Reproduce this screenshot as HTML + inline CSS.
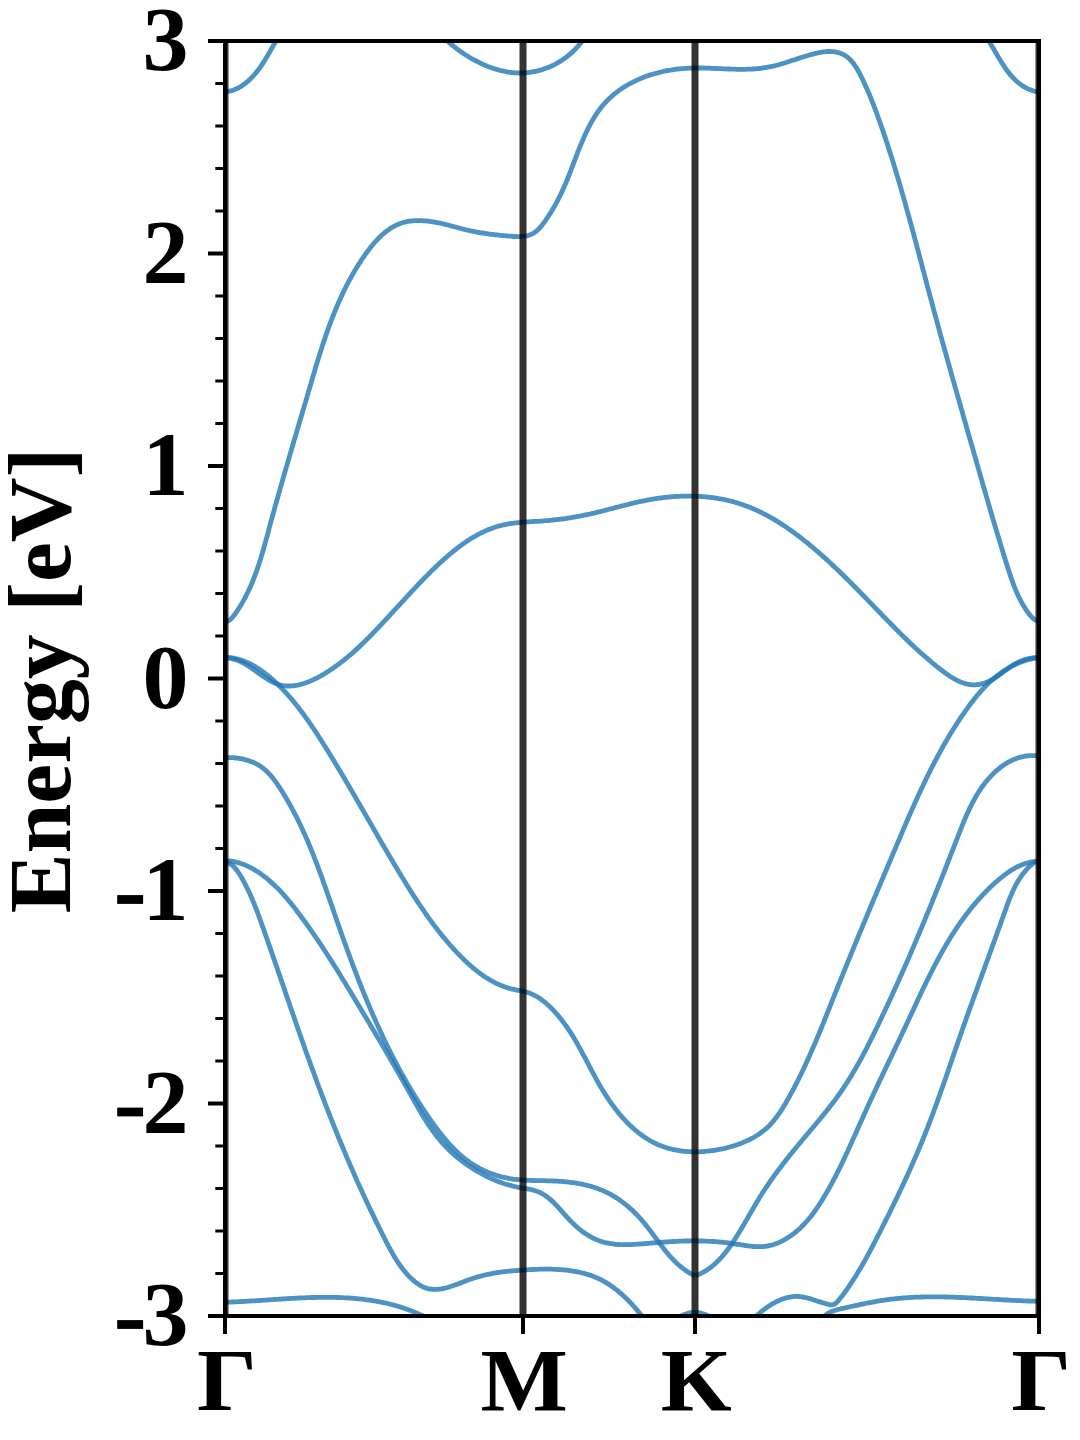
<!DOCTYPE html>
<html><head><meta charset="utf-8"><style>
html,body{margin:0;padding:0;background:#fff;width:1080px;height:1440px;overflow:hidden}
svg{display:block}
</style></head><body>
<svg width="1080" height="1440" viewBox="0 0 1080 1440">
<rect width="1080" height="1440" fill="#fff"/>
<defs><clipPath id="c"><rect x="225" y="41" width="814" height="1275"/></clipPath></defs>
<g clip-path="url(#c)" fill="none" stroke="#1f77b4" stroke-opacity="0.8" stroke-width="4.8" stroke-linecap="butt" stroke-linejoin="round">
<path d="M197.1,75.9 L198.1,77.3 L199.1,78.6 L200.2,79.9 L201.3,81.1 L202.5,82.2 L203.7,83.3 L204.9,84.3 L206.2,85.3 L207.5,86.2 L208.8,87.1 L210.2,87.8 L211.6,88.5 L213.0,89.2 L214.4,89.8 L215.9,90.3 L217.3,90.7 L218.8,91.0 L220.2,91.3 L221.7,91.5 L223.1,91.6 L224.6,91.6 L226.0,91.6 L227.5,91.5 L228.9,91.2 L230.3,90.9 L231.7,90.6 L233.1,90.2 L234.5,89.6 L235.9,89.1 L237.2,88.5 L238.6,87.8 L239.9,87.0 L241.2,86.2 L242.5,85.4 L243.7,84.5 L245.0,83.6 L246.2,82.6 L247.4,81.6 L248.6,80.6 L249.7,79.5 L250.9,78.4 L252.0,77.3 L253.0,76.2 L254.1,75.0 L255.1,73.8 L256.1,72.6 L257.1,71.4 L258.0,70.2 L259.0,69.0 L259.9,67.7 L260.8,66.4 L261.6,65.2 L262.5,63.9 L263.3,62.6 L264.2,61.3 L265.0,60.0 L265.8,58.6 L266.6,57.3 L267.4,56.0 L268.1,54.7 L268.9,53.3 L269.7,52.0 L270.4,50.7 L271.2,49.3 L271.9,48.0 L272.7,46.6 L273.4,45.3 L274.2,44.0 L274.9,42.7 L275.7,41.3 L276.5,40.0 L277.2,38.7 L278.0,37.4 L278.8,36.1 L279.6,34.9 L280.4,33.6 L281.2,32.4 L282.1,31.1"/>
<path d="M440.2,34.1 L441.2,35.1 L442.2,36.1 L443.2,37.1 L444.3,38.2 L445.4,39.2 L446.5,40.2 L447.6,41.2 L448.7,42.1 L449.8,43.1 L451.0,44.1 L452.1,45.1 L453.3,46.0 L454.5,47.0 L455.7,47.9 L456.9,48.8 L458.2,49.8 L459.4,50.7 L460.7,51.6 L461.9,52.4 L463.2,53.3 L464.5,54.2 L465.8,55.0 L467.1,55.8 L468.4,56.7 L469.8,57.5 L471.1,58.3 L472.5,59.0 L473.8,59.8 L475.2,60.5 L476.6,61.2 L478.0,62.0 L479.4,62.6 L480.8,63.3 L482.2,64.0 L483.6,64.6 L485.0,65.2 L486.4,65.8 L487.9,66.4 L489.3,66.9 L490.8,67.5 L492.2,68.0 L493.7,68.5 L495.1,68.9 L496.6,69.4 L498.1,69.8 L499.5,70.2 L501.0,70.6 L502.5,70.9 L504.0,71.2 L505.5,71.5 L506.9,71.8 L508.4,72.1 L509.9,72.3 L511.4,72.5 L512.9,72.6 L514.4,72.8 L515.9,72.9 L517.4,72.9 L518.9,73.0 L520.4,73.0 L521.8,73.0 L523.3,72.9 L524.8,72.9 L526.3,72.7 L527.8,72.6 L529.3,72.4 L530.7,72.2 L532.2,72.0 L533.7,71.7 L535.1,71.5 L536.6,71.1 L538.0,70.8 L539.5,70.4 L540.9,70.0 L542.4,69.6 L543.8,69.1 L545.2,68.6 L546.6,68.1 L548.0,67.5 L549.4,67.0 L550.8,66.3 L552.1,65.7 L553.5,65.1 L554.9,64.4 L556.2,63.7 L557.5,62.9 L558.8,62.2 L560.1,61.4 L561.4,60.6 L562.7,59.7 L563.9,58.8 L565.2,58.0 L566.4,57.0 L567.6,56.1 L568.8,55.1 L570.0,54.1 L571.1,53.1 L572.3,52.1 L573.4,51.0 L574.5,50.0 L575.6,48.8 L576.7,47.7 L577.7,46.6 L578.8,45.4 L579.8,44.2 L580.8,43.0 L581.7,41.7 L582.7,40.5 L583.6,39.2 L584.5,37.9 L585.4,36.6 L586.2,35.2 L587.0,33.8 L587.8,32.5"/>
<path d="M982.0,31.2 L982.9,32.3 L983.7,33.5 L984.6,34.7 L985.4,35.9 L986.3,37.1 L987.1,38.3 L987.9,39.6 L988.7,40.8 L989.5,42.1 L990.3,43.4 L991.1,44.7 L991.9,46.1 L992.7,47.4 L993.5,48.7 L994.3,50.1 L995.1,51.4 L995.8,52.8 L996.6,54.1 L997.4,55.5 L998.2,56.9 L999.0,58.2 L999.8,59.6 L1000.7,60.9 L1001.5,62.3 L1002.3,63.6 L1003.2,64.9 L1004.1,66.2 L1004.9,67.5 L1005.8,68.8 L1006.7,70.1 L1007.7,71.3 L1008.6,72.6 L1009.6,73.8 L1010.5,75.0 L1011.6,76.1 L1012.6,77.3 L1013.6,78.4 L1014.7,79.5 L1015.8,80.5 L1016.9,81.5 L1018.1,82.5 L1019.3,83.5 L1020.5,84.4 L1021.7,85.3 L1023.0,86.1 L1024.3,86.9 L1025.6,87.7 L1026.9,88.4 L1028.3,89.0 L1029.6,89.6 L1031.0,90.1 L1032.4,90.6 L1033.8,91.0 L1035.3,91.3 L1036.7,91.6 L1038.1,91.8 L1039.6,91.9 L1041.0,91.9 L1042.5,91.8 L1043.9,91.7 L1045.4,91.4 L1046.8,91.1 L1048.2,90.7 L1049.7,90.1 L1051.1,89.5 L1052.5,88.7 L1053.9,87.9 L1055.3,86.9 L1056.7,85.8 L1058.0,84.6 L1059.4,83.3"/>
<path d="M207.2,604.3 L207.5,605.4 L208.0,606.6 L208.6,607.9 L209.3,609.3 L210.2,610.6 L211.2,612.0 L212.3,613.4 L213.5,614.7 L214.7,616.0 L216.0,617.2 L217.4,618.3 L218.8,619.3 L220.2,620.1 L221.5,620.8 L222.9,621.3 L224.2,621.6 L225.5,621.7 L226.8,621.5 L227.9,621.1 L229.0,620.5 L230.1,619.7 L231.1,618.8 L232.1,617.7 L233.1,616.6 L234.0,615.4 L234.9,614.2 L235.8,613.0 L236.7,611.7 L237.5,610.4 L238.3,609.2 L239.2,607.9 L240.0,606.6 L240.8,605.3 L241.5,604.0 L242.3,602.7 L243.0,601.4 L243.8,600.1 L244.5,598.8 L245.2,597.5 L245.9,596.2 L246.6,594.8 L247.2,593.5 L247.9,592.1 L248.5,590.8 L249.2,589.4 L249.8,588.1 L250.4,586.7 L251.0,585.3 L251.6,583.9 L252.2,582.6 L252.7,581.2 L253.3,579.8 L253.8,578.4 L254.4,577.0 L254.9,575.6 L255.4,574.2 L256.0,572.8 L256.5,571.4 L257.0,570.0 L257.4,568.5 L257.9,567.1 L258.4,565.7 L258.9,564.3 L259.3,562.8 L259.8,561.4 L260.2,560.0 L260.7,558.5 L261.1,557.1 L261.6,555.6 L262.0,554.2 L262.4,552.8 L262.8,551.3 L263.3,549.9 L263.7,548.4 L264.1,546.9 L264.5,545.5 L264.9,544.0 L265.3,542.6 L265.7,541.1 L266.1,539.7 L266.5,538.2 L266.9,536.8 L267.3,535.3 L267.7,533.8 L268.1,532.4 L268.5,530.9 L268.9,529.5 L269.2,528.0 L269.6,526.5 L270.0,525.1 L270.4,523.6 L270.8,522.2 L271.2,520.7 L271.6,519.3 L272.0,517.8 L272.4,516.4 L272.8,514.9 L273.2,513.5 L273.6,512.0 L274.0,510.6 L274.4,509.1 L274.8,507.6 L275.2,506.2 L275.6,504.7 L276.0,503.3 L276.4,501.8 L276.8,500.4 L277.3,499.0 L277.7,497.5 L278.1,496.1 L278.5,494.6 L278.9,493.2 L279.3,491.7 L279.7,490.3 L280.1,488.8 L280.5,487.4 L280.9,485.9 L281.4,484.5 L281.8,483.0 L282.2,481.6 L282.6,480.2 L283.0,478.7 L283.4,477.3 L283.8,475.8 L284.3,474.4 L284.7,472.9 L285.1,471.5 L285.5,470.1 L285.9,468.6 L286.3,467.2 L286.8,465.7 L287.2,464.3 L287.6,462.9 L288.0,461.4 L288.4,460.0 L288.9,458.5 L289.3,457.1 L289.7,455.7 L290.1,454.2 L290.5,452.8 L291.0,451.3 L291.4,449.9 L291.8,448.5 L292.2,447.0 L292.7,445.6 L293.1,444.2 L293.5,442.7 L293.9,441.3 L294.3,439.8 L294.8,438.4 L295.2,437.0 L295.6,435.5 L296.0,434.1 L296.5,432.6 L296.9,431.2 L297.3,429.8 L297.7,428.3 L298.2,426.9 L298.6,425.5 L299.0,424.0 L299.4,422.6 L299.9,421.1 L300.3,419.7 L300.7,418.3 L301.1,416.8 L301.6,415.4 L302.0,413.9 L302.4,412.5 L302.8,411.1 L303.2,409.6 L303.7,408.2 L304.1,406.7 L304.5,405.3 L304.9,403.9 L305.4,402.4 L305.8,401.0 L306.2,399.5 L306.6,398.1 L307.1,396.7 L307.5,395.2 L307.9,393.8 L308.3,392.3 L308.7,390.9 L309.2,389.5 L309.6,388.0 L310.0,386.6 L310.4,385.1 L310.9,383.7 L311.3,382.3 L311.7,380.8 L312.1,379.4 L312.5,377.9 L313.0,376.5 L313.4,375.0 L313.8,373.6 L314.3,372.2 L314.7,370.7 L315.1,369.3 L315.5,367.8 L316.0,366.4 L316.4,365.0 L316.8,363.5 L317.3,362.1 L317.7,360.6 L318.2,359.2 L318.6,357.8 L319.0,356.3 L319.5,354.9 L319.9,353.5 L320.4,352.0 L320.8,350.6 L321.3,349.2 L321.8,347.7 L322.2,346.3 L322.7,344.9 L323.2,343.5 L323.6,342.0 L324.1,340.6 L324.6,339.2 L325.1,337.8 L325.5,336.3 L326.0,334.9 L326.5,333.5 L327.0,332.1 L327.5,330.7 L328.0,329.3 L328.5,327.9 L329.0,326.4 L329.6,325.0 L330.1,323.6 L330.6,322.2 L331.1,320.8 L331.7,319.4 L332.2,318.0 L332.8,316.6 L333.3,315.2 L333.9,313.8 L334.4,312.5 L335.0,311.1 L335.5,309.7 L336.1,308.3 L336.7,306.9 L337.3,305.5 L337.9,304.2 L338.5,302.8 L339.1,301.4 L339.7,300.0 L340.3,298.7 L340.9,297.3 L341.6,295.9 L342.2,294.6 L342.8,293.2 L343.5,291.9 L344.1,290.5 L344.8,289.2 L345.5,287.8 L346.1,286.5 L346.8,285.2 L347.5,283.8 L348.2,282.5 L348.9,281.2 L349.6,279.8 L350.4,278.5 L351.1,277.2 L351.8,275.9 L352.6,274.5 L353.3,273.2 L354.1,271.9 L354.8,270.6 L355.6,269.3 L356.4,268.0 L357.2,266.7 L358.0,265.4 L358.8,264.2 L359.6,262.9 L360.5,261.6 L361.3,260.3 L362.1,259.0 L363.0,257.8 L363.9,256.5 L364.7,255.3 L365.6,254.0 L366.5,252.8 L367.4,251.5 L368.3,250.3 L369.3,249.1 L370.2,247.8 L371.2,246.6 L372.1,245.5 L373.1,244.3 L374.1,243.1 L375.1,242.0 L376.1,240.9 L377.1,239.8 L378.2,238.7 L379.2,237.6 L380.3,236.6 L381.4,235.5 L382.5,234.5 L383.6,233.6 L384.7,232.6 L385.9,231.7 L387.0,230.8 L388.2,230.0 L389.4,229.1 L390.6,228.3 L391.8,227.6 L393.1,226.9 L394.3,226.2 L395.6,225.5 L396.9,224.9 L398.3,224.3 L399.6,223.8 L401.0,223.3 L402.4,222.8 L403.8,222.4 L405.2,222.0 L406.6,221.7 L408.1,221.4 L409.6,221.2 L411.1,221.0 L412.6,220.9 L414.1,220.7 L415.6,220.7 L417.2,220.6 L418.7,220.6 L420.3,220.6 L421.8,220.7 L423.4,220.8 L425.0,220.9 L426.5,221.0 L428.1,221.2 L429.6,221.4 L431.2,221.6 L432.7,221.8 L434.2,222.0 L435.8,222.3 L437.3,222.6 L438.8,222.9 L440.3,223.2 L441.7,223.5 L443.2,223.9 L444.7,224.2 L446.1,224.6 L447.6,224.9 L449.0,225.3 L450.5,225.7 L451.9,226.1 L453.3,226.5 L454.8,226.8 L456.2,227.2 L457.6,227.6 L459.0,228.0 L460.5,228.4 L461.9,228.8 L463.3,229.1 L464.7,229.5 L466.2,229.8 L467.6,230.2 L469.0,230.5 L470.5,230.9 L471.9,231.2 L473.4,231.5 L474.8,231.7 L476.3,232.0 L477.7,232.3 L479.2,232.5 L480.6,232.8 L482.1,233.0 L483.6,233.2 L485.1,233.5 L486.5,233.7 L488.0,233.9 L489.5,234.1 L491.0,234.3 L492.5,234.4 L494.0,234.6 L495.5,234.8 L497.1,234.9 L498.6,235.1 L500.1,235.3 L501.6,235.4 L503.2,235.6 L504.7,235.7 L506.3,235.8 L507.8,236.0 L509.4,236.1 L510.9,236.2 L512.5,236.4 L514.0,236.5 L515.6,236.5 L517.1,236.6 L518.7,236.6 L520.2,236.5 L521.7,236.4 L523.2,236.3 L524.6,236.1 L526.1,235.9 L527.5,235.6 L528.9,235.2 L530.2,234.7 L531.5,234.2 L532.8,233.5 L534.1,232.8 L535.3,232.0 L536.4,231.1 L537.6,230.1 L538.6,229.1 L539.7,228.0 L540.7,226.8 L541.7,225.6 L542.7,224.3 L543.6,223.1 L544.6,221.8 L545.5,220.5 L546.4,219.2 L547.2,217.9 L548.1,216.7 L548.9,215.4 L549.7,214.1 L550.6,212.8 L551.3,211.5 L552.1,210.3 L552.9,209.0 L553.6,207.7 L554.4,206.4 L555.1,205.1 L555.8,203.9 L556.5,202.6 L557.2,201.3 L557.9,200.0 L558.5,198.7 L559.2,197.4 L559.8,196.1 L560.5,194.8 L561.1,193.5 L561.7,192.2 L562.3,190.9 L562.9,189.6 L563.5,188.2 L564.1,186.9 L564.7,185.6 L565.3,184.2 L565.9,182.9 L566.4,181.5 L567.0,180.2 L567.6,178.8 L568.1,177.4 L568.7,176.0 L569.2,174.6 L569.8,173.2 L570.3,171.8 L570.9,170.4 L571.4,169.0 L571.9,167.6 L572.5,166.2 L573.0,164.7 L573.6,163.3 L574.1,161.9 L574.7,160.4 L575.2,159.0 L575.8,157.5 L576.3,156.1 L576.9,154.6 L577.4,153.2 L578.0,151.7 L578.5,150.3 L579.1,148.8 L579.7,147.4 L580.3,146.0 L580.9,144.5 L581.5,143.1 L582.0,141.7 L582.7,140.2 L583.3,138.8 L583.9,137.4 L584.5,136.0 L585.2,134.6 L585.8,133.2 L586.5,131.8 L587.1,130.4 L587.8,129.0 L588.5,127.7 L589.2,126.3 L589.9,125.0 L590.6,123.6 L591.3,122.3 L592.1,121.0 L592.8,119.7 L593.6,118.4 L594.4,117.1 L595.2,115.8 L596.0,114.6 L596.8,113.3 L597.7,112.1 L598.5,110.9 L599.4,109.7 L600.3,108.5 L601.2,107.3 L602.1,106.2 L603.1,105.1 L604.0,104.0 L605.0,102.9 L606.0,101.8 L607.0,100.7 L608.1,99.7 L609.1,98.7 L610.2,97.7 L611.3,96.7 L612.4,95.7 L613.5,94.8 L614.6,93.8 L615.8,92.9 L616.9,92.0 L618.1,91.1 L619.3,90.3 L620.5,89.4 L621.7,88.6 L622.9,87.8 L624.2,87.0 L625.4,86.2 L626.7,85.5 L628.0,84.7 L629.3,84.0 L630.6,83.3 L631.9,82.6 L633.2,81.9 L634.6,81.3 L635.9,80.6 L637.3,80.0 L638.6,79.4 L640.0,78.8 L641.4,78.2 L642.8,77.6 L644.2,77.1 L645.6,76.6 L647.0,76.1 L648.4,75.6 L649.9,75.1 L651.3,74.6 L652.7,74.2 L654.2,73.8 L655.7,73.3 L657.1,73.0 L658.6,72.6 L660.1,72.2 L661.5,71.9 L663.0,71.5 L664.5,71.2 L666.0,70.9 L667.5,70.6 L669.0,70.3 L670.5,70.1 L672.0,69.8 L673.5,69.6 L675.0,69.4 L676.5,69.2 L678.0,69.0 L679.5,68.9 L681.0,68.7 L682.6,68.6 L684.1,68.5 L685.6,68.3 L687.1,68.3 L688.6,68.2 L690.1,68.1 L691.6,68.1 L693.1,68.0 L694.6,68.0 L696.1,68.0 L697.7,68.0 L699.2,68.0 L700.7,68.0 L702.2,68.0 L703.7,68.0 L705.2,68.1 L706.7,68.1 L708.2,68.2 L709.7,68.2 L711.2,68.3 L712.7,68.3 L714.2,68.4 L715.7,68.5 L717.2,68.5 L718.7,68.6 L720.2,68.7 L721.7,68.7 L723.2,68.8 L724.7,68.9 L726.2,68.9 L727.7,69.0 L729.2,69.0 L730.7,69.1 L732.2,69.1 L733.6,69.2 L735.1,69.2 L736.6,69.3 L738.1,69.3 L739.6,69.3 L741.1,69.3 L742.6,69.3 L744.1,69.3 L745.6,69.3 L747.0,69.2 L748.5,69.2 L750.0,69.1 L751.5,69.1 L753.0,69.0 L754.4,68.9 L755.9,68.8 L757.4,68.6 L758.9,68.5 L760.4,68.3 L761.8,68.1 L763.3,67.9 L764.8,67.7 L766.3,67.5 L767.7,67.2 L769.2,66.9 L770.7,66.6 L772.1,66.3 L773.6,66.0 L775.1,65.6 L776.5,65.3 L778.0,64.9 L779.5,64.5 L780.9,64.0 L782.4,63.6 L783.8,63.2 L785.3,62.7 L786.8,62.2 L788.2,61.8 L789.7,61.3 L791.2,60.8 L792.6,60.3 L794.1,59.9 L795.5,59.4 L797.0,58.9 L798.4,58.4 L799.9,57.9 L801.4,57.5 L802.8,57.0 L804.3,56.6 L805.7,56.1 L807.2,55.7 L808.7,55.2 L810.1,54.8 L811.6,54.4 L813.1,54.1 L814.5,53.7 L816.0,53.3 L817.4,53.0 L818.9,52.7 L820.4,52.4 L821.8,52.2 L823.3,51.9 L824.8,51.8 L826.3,51.6 L827.7,51.5 L829.2,51.5 L830.7,51.5 L832.2,51.6 L833.7,51.7 L835.2,51.9 L836.7,52.2 L838.1,52.6 L839.6,53.0 L841.0,53.5 L842.3,54.1 L843.6,54.7 L844.9,55.4 L846.1,56.2 L847.3,57.1 L848.4,58.0 L849.4,58.9 L850.5,60.0 L851.5,61.0 L852.4,62.2 L853.3,63.3 L854.2,64.5 L855.1,65.8 L855.9,67.0 L856.7,68.3 L857.5,69.6 L858.2,71.0 L859.0,72.3 L859.7,73.7 L860.4,75.1 L861.1,76.5 L861.8,77.9 L862.5,79.2 L863.1,80.6 L863.8,82.0 L864.4,83.4 L865.1,84.8 L865.7,86.2 L866.3,87.6 L867.0,89.0 L867.6,90.4 L868.2,91.7 L868.8,93.1 L869.4,94.5 L869.9,95.9 L870.5,97.3 L871.1,98.7 L871.6,100.1 L872.2,101.5 L872.8,102.9 L873.3,104.3 L873.8,105.7 L874.4,107.1 L874.9,108.5 L875.4,109.9 L876.0,111.3 L876.5,112.7 L877.0,114.1 L877.5,115.5 L878.0,116.9 L878.5,118.4 L879.0,119.8 L879.5,121.2 L880.0,122.6 L880.5,124.0 L881.0,125.4 L881.5,126.8 L882.0,128.2 L882.5,129.6 L883.0,131.1 L883.5,132.5 L883.9,133.9 L884.4,135.3 L884.9,136.7 L885.4,138.1 L885.8,139.6 L886.3,141.0 L886.8,142.4 L887.2,143.8 L887.7,145.3 L888.2,146.7 L888.6,148.1 L889.1,149.5 L889.5,151.0 L890.0,152.4 L890.5,153.8 L890.9,155.2 L891.4,156.7 L891.8,158.1 L892.3,159.5 L892.7,161.0 L893.1,162.4 L893.6,163.8 L894.0,165.3 L894.5,166.7 L894.9,168.1 L895.3,169.6 L895.8,171.0 L896.2,172.4 L896.6,173.9 L897.1,175.3 L897.5,176.7 L897.9,178.2 L898.4,179.6 L898.8,181.0 L899.2,182.5 L899.6,183.9 L900.0,185.4 L900.5,186.8 L900.9,188.2 L901.3,189.7 L901.7,191.1 L902.1,192.6 L902.5,194.0 L903.0,195.5 L903.4,196.9 L903.8,198.4 L904.2,199.8 L904.6,201.2 L905.0,202.7 L905.4,204.1 L905.8,205.6 L906.2,207.0 L906.6,208.5 L907.0,209.9 L907.4,211.4 L907.8,212.8 L908.2,214.3 L908.6,215.7 L909.0,217.2 L909.4,218.6 L909.8,220.1 L910.2,221.5 L910.6,223.0 L911.0,224.4 L911.4,225.9 L911.8,227.3 L912.2,228.8 L912.6,230.2 L913.0,231.7 L913.4,233.1 L913.7,234.6 L914.1,236.0 L914.5,237.5 L914.9,238.9 L915.3,240.4 L915.7,241.8 L916.1,243.3 L916.5,244.7 L916.8,246.2 L917.2,247.7 L917.6,249.1 L918.0,250.6 L918.4,252.0 L918.8,253.5 L919.2,254.9 L919.5,256.4 L919.9,257.8 L920.3,259.3 L920.7,260.7 L921.1,262.2 L921.5,263.6 L921.9,265.1 L922.2,266.6 L922.6,268.0 L923.0,269.5 L923.4,270.9 L923.8,272.4 L924.2,273.8 L924.5,275.3 L924.9,276.7 L925.3,278.2 L925.7,279.6 L926.1,281.1 L926.5,282.6 L926.8,284.0 L927.2,285.5 L927.6,286.9 L928.0,288.4 L928.4,289.8 L928.8,291.3 L929.2,292.7 L929.5,294.2 L929.9,295.6 L930.3,297.1 L930.7,298.5 L931.1,300.0 L931.5,301.4 L931.9,302.9 L932.3,304.4 L932.7,305.8 L933.0,307.3 L933.4,308.7 L933.8,310.2 L934.2,311.6 L934.6,313.1 L935.0,314.5 L935.4,316.0 L935.8,317.4 L936.2,318.9 L936.6,320.3 L937.0,321.8 L937.4,323.2 L937.8,324.7 L938.2,326.1 L938.6,327.6 L939.0,329.0 L939.4,330.5 L939.7,331.9 L940.1,333.4 L940.5,334.8 L940.9,336.3 L941.3,337.7 L941.7,339.2 L942.1,340.6 L942.5,342.0 L942.9,343.5 L943.3,344.9 L943.7,346.4 L944.1,347.8 L944.5,349.3 L944.9,350.7 L945.4,352.2 L945.8,353.6 L946.2,355.1 L946.6,356.5 L947.0,358.0 L947.4,359.4 L947.8,360.9 L948.2,362.3 L948.6,363.8 L949.0,365.2 L949.4,366.6 L949.8,368.1 L950.2,369.5 L950.6,371.0 L951.0,372.4 L951.4,373.9 L951.8,375.3 L952.2,376.8 L952.6,378.2 L953.0,379.7 L953.5,381.1 L953.9,382.5 L954.3,384.0 L954.7,385.4 L955.1,386.9 L955.5,388.3 L955.9,389.8 L956.3,391.2 L956.7,392.7 L957.1,394.1 L957.5,395.5 L957.9,397.0 L958.4,398.4 L958.8,399.9 L959.2,401.3 L959.6,402.8 L960.0,404.2 L960.4,405.7 L960.8,407.1 L961.2,408.5 L961.6,410.0 L962.1,411.4 L962.5,412.9 L962.9,414.3 L963.3,415.8 L963.7,417.2 L964.1,418.7 L964.5,420.1 L964.9,421.5 L965.3,423.0 L965.8,424.4 L966.2,425.9 L966.6,427.3 L967.0,428.8 L967.4,430.2 L967.8,431.6 L968.2,433.1 L968.6,434.5 L969.1,436.0 L969.5,437.4 L969.9,438.9 L970.3,440.3 L970.7,441.7 L971.1,443.2 L971.5,444.6 L971.9,446.1 L972.4,447.5 L972.8,449.0 L973.2,450.4 L973.6,451.9 L974.0,453.3 L974.4,454.7 L974.8,456.2 L975.2,457.6 L975.7,459.1 L976.1,460.5 L976.5,462.0 L976.9,463.4 L977.3,464.8 L977.7,466.3 L978.1,467.7 L978.5,469.2 L979.0,470.6 L979.4,472.1 L979.8,473.5 L980.2,474.9 L980.6,476.4 L981.0,477.8 L981.4,479.3 L981.9,480.7 L982.3,482.2 L982.7,483.6 L983.1,485.1 L983.5,486.5 L983.9,487.9 L984.3,489.4 L984.8,490.8 L985.2,492.3 L985.6,493.7 L986.0,495.2 L986.4,496.6 L986.8,498.0 L987.3,499.5 L987.7,500.9 L988.1,502.4 L988.5,503.8 L988.9,505.3 L989.4,506.7 L989.8,508.1 L990.2,509.6 L990.6,511.0 L991.0,512.5 L991.5,513.9 L991.9,515.3 L992.3,516.8 L992.7,518.2 L993.2,519.7 L993.6,521.1 L994.0,522.6 L994.4,524.0 L994.9,525.4 L995.3,526.9 L995.7,528.3 L996.2,529.8 L996.6,531.2 L997.0,532.6 L997.5,534.1 L997.9,535.5 L998.3,537.0 L998.8,538.4 L999.2,539.8 L999.6,541.3 L1000.1,542.7 L1000.5,544.2 L1000.9,545.6 L1001.4,547.0 L1001.8,548.5 L1002.3,549.9 L1002.7,551.4 L1003.2,552.8 L1003.6,554.2 L1004.0,555.7 L1004.5,557.1 L1004.9,558.5 L1005.4,560.0 L1005.8,561.4 L1006.3,562.9 L1006.7,564.3 L1007.2,565.7 L1007.6,567.2 L1008.1,568.6 L1008.6,570.0 L1009.0,571.5 L1009.5,572.9 L1010.0,574.3 L1010.4,575.8 L1010.9,577.2 L1011.4,578.6 L1011.9,580.0 L1012.4,581.4 L1012.9,582.9 L1013.4,584.3 L1014.0,585.7 L1014.5,587.1 L1015.1,588.5 L1015.6,589.9 L1016.2,591.2 L1016.8,592.6 L1017.4,594.0 L1018.1,595.4 L1018.7,596.7 L1019.4,598.1 L1020.0,599.4 L1020.7,600.8 L1021.4,602.1 L1022.2,603.4 L1022.9,604.7 L1023.7,606.0 L1024.5,607.3 L1025.3,608.6 L1026.2,609.9 L1027.0,611.2 L1027.9,612.4 L1028.9,613.6 L1029.8,614.9 L1030.8,616.0 L1031.8,617.1 L1032.8,618.1 L1033.9,619.0 L1035.0,619.8 L1036.2,620.4 L1037.4,620.8 L1038.7,621.1 L1040.0,621.1 L1041.4,621.0 L1042.7,620.6 L1044.1,620.0 L1045.4,619.2 L1046.6,618.2 L1047.8,617.1 L1048.9,615.7 L1049.9,614.1 L1050.7,612.3"/>
<path d="M210.9,658.9 L212.5,658.5 L214.0,658.3 L215.6,658.0 L217.1,657.8 L218.6,657.7 L220.2,657.6 L221.7,657.6 L223.1,657.6 L224.6,657.6 L226.1,657.7 L227.5,657.9 L229.0,658.1 L230.4,658.3 L231.8,658.6 L233.2,659.0 L234.6,659.4 L236.0,659.8 L237.3,660.3 L238.7,660.8 L240.1,661.4 L241.4,662.1 L242.7,662.7 L244.1,663.5 L245.4,664.2 L246.7,665.0 L248.0,665.8 L249.3,666.7 L250.6,667.5 L251.9,668.4 L253.2,669.3 L254.5,670.2 L255.8,671.1 L257.1,672.1 L258.4,673.0 L259.6,673.9 L260.9,674.8 L262.2,675.7 L263.5,676.6 L264.8,677.4 L266.1,678.3 L267.4,679.1 L268.7,679.9 L270.0,680.6 L271.3,681.4 L272.6,682.0 L273.9,682.7 L275.2,683.3 L276.6,683.8 L277.9,684.3 L279.2,684.7 L280.6,685.1 L282.0,685.4 L283.3,685.6 L284.7,685.8 L286.1,685.9 L287.5,686.0 L288.9,686.0 L290.3,686.0 L291.7,685.9 L293.1,685.8 L294.6,685.6 L296.0,685.4 L297.4,685.2 L298.8,684.9 L300.2,684.5 L301.7,684.1 L303.1,683.7 L304.5,683.3 L305.9,682.8 L307.3,682.3 L308.8,681.7 L310.2,681.1 L311.6,680.5 L313.0,679.9 L314.4,679.2 L315.8,678.5 L317.2,677.8 L318.5,677.1 L319.9,676.4 L321.3,675.6 L322.6,674.8 L324.0,674.0 L325.3,673.2 L326.7,672.4 L328.0,671.5 L329.3,670.7 L330.6,669.8 L331.9,668.9 L333.2,668.1 L334.4,667.2 L335.7,666.3 L336.9,665.4 L338.2,664.5 L339.4,663.6 L340.6,662.7 L341.8,661.7 L343.0,660.8 L344.2,659.9 L345.4,658.9 L346.5,658.0 L347.7,657.0 L348.8,656.0 L350.0,655.1 L351.1,654.1 L352.3,653.1 L353.4,652.1 L354.5,651.1 L355.6,650.1 L356.7,649.1 L357.8,648.1 L358.9,647.1 L360.0,646.1 L361.1,645.0 L362.1,644.0 L363.2,643.0 L364.3,641.9 L365.3,640.9 L366.4,639.8 L367.5,638.8 L368.5,637.7 L369.6,636.7 L370.6,635.6 L371.6,634.6 L372.7,633.5 L373.7,632.4 L374.7,631.4 L375.8,630.3 L376.8,629.2 L377.8,628.1 L378.8,627.1 L379.9,626.0 L380.9,624.9 L381.9,623.8 L382.9,622.7 L383.9,621.6 L384.9,620.5 L386.0,619.5 L387.0,618.4 L388.0,617.3 L389.0,616.2 L390.0,615.1 L391.0,614.0 L392.0,612.9 L393.0,611.8 L394.0,610.7 L395.0,609.6 L396.0,608.5 L397.0,607.4 L398.1,606.3 L399.1,605.2 L400.1,604.1 L401.1,603.0 L402.1,601.9 L403.1,600.8 L404.1,599.7 L405.1,598.6 L406.1,597.5 L407.1,596.4 L408.2,595.3 L409.2,594.2 L410.2,593.1 L411.2,592.0 L412.2,590.9 L413.3,589.8 L414.3,588.7 L415.3,587.6 L416.4,586.5 L417.4,585.4 L418.4,584.3 L419.5,583.2 L420.5,582.1 L421.6,581.0 L422.6,580.0 L423.7,578.9 L424.7,577.8 L425.8,576.7 L426.9,575.6 L427.9,574.6 L429.0,573.5 L430.1,572.4 L431.1,571.4 L432.2,570.3 L433.3,569.2 L434.4,568.2 L435.5,567.1 L436.6,566.1 L437.7,565.0 L438.8,564.0 L439.9,563.0 L441.1,561.9 L442.2,560.9 L443.3,559.9 L444.5,558.8 L445.6,557.8 L446.8,556.8 L447.9,555.8 L449.1,554.8 L450.2,553.8 L451.4,552.9 L452.6,551.9 L453.8,550.9 L454.9,550.0 L456.1,549.1 L457.3,548.1 L458.5,547.2 L459.8,546.3 L461.0,545.4 L462.2,544.5 L463.4,543.6 L464.7,542.8 L465.9,541.9 L467.1,541.1 L468.4,540.3 L469.7,539.4 L470.9,538.6 L472.2,537.9 L473.5,537.1 L474.8,536.4 L476.1,535.6 L477.4,534.9 L478.7,534.2 L480.0,533.5 L481.3,532.8 L482.6,532.2 L484.0,531.6 L485.3,531.0 L486.7,530.4 L488.0,529.8 L489.4,529.2 L490.8,528.7 L492.1,528.2 L493.5,527.7 L494.9,527.2 L496.3,526.8 L497.7,526.3 L499.2,525.9 L500.6,525.6 L502.0,525.2 L503.5,524.9 L504.9,524.6 L506.4,524.3 L507.8,524.0 L509.3,523.7 L510.8,523.5 L512.3,523.3 L513.8,523.1 L515.3,522.9 L516.8,522.8 L518.3,522.6 L519.8,522.5 L521.3,522.3 L522.8,522.2 L524.3,522.1 L525.8,522.0 L527.3,521.9 L528.9,521.8 L530.4,521.7 L531.9,521.6 L533.4,521.5 L535.0,521.4 L536.5,521.4 L538.0,521.3 L539.5,521.2 L541.0,521.1 L542.6,521.0 L544.1,520.9 L545.6,520.7 L547.1,520.6 L548.6,520.5 L550.1,520.3 L551.6,520.2 L553.1,520.0 L554.6,519.9 L556.1,519.7 L557.6,519.5 L559.1,519.4 L560.6,519.2 L562.1,519.0 L563.6,518.8 L565.0,518.6 L566.5,518.4 L568.0,518.1 L569.5,517.9 L571.0,517.7 L572.4,517.4 L573.9,517.2 L575.4,516.9 L576.8,516.7 L578.3,516.4 L579.8,516.1 L581.2,515.8 L582.7,515.5 L584.2,515.2 L585.6,514.9 L587.1,514.6 L588.5,514.3 L590.0,514.0 L591.5,513.6 L592.9,513.3 L594.4,513.0 L595.8,512.6 L597.3,512.3 L598.7,511.9 L600.2,511.6 L601.6,511.2 L603.1,510.8 L604.5,510.5 L606.0,510.1 L607.4,509.7 L608.9,509.3 L610.3,508.9 L611.8,508.6 L613.2,508.2 L614.7,507.8 L616.1,507.4 L617.6,507.1 L619.0,506.7 L620.5,506.3 L621.9,505.9 L623.4,505.6 L624.9,505.2 L626.3,504.8 L627.8,504.5 L629.2,504.1 L630.7,503.7 L632.1,503.4 L633.6,503.0 L635.1,502.7 L636.5,502.4 L638.0,502.0 L639.5,501.7 L640.9,501.4 L642.4,501.1 L643.9,500.8 L645.4,500.5 L646.9,500.2 L648.3,499.9 L649.8,499.6 L651.3,499.4 L652.8,499.1 L654.3,498.9 L655.8,498.6 L657.3,498.4 L658.8,498.2 L660.3,498.0 L661.8,497.8 L663.3,497.6 L664.8,497.4 L666.3,497.3 L667.8,497.1 L669.3,497.0 L670.8,496.8 L672.3,496.7 L673.8,496.6 L675.4,496.5 L676.9,496.4 L678.4,496.3 L679.9,496.3 L681.4,496.2 L682.9,496.2 L684.4,496.1 L685.9,496.1 L687.4,496.1 L689.0,496.1 L690.5,496.1 L692.0,496.1 L693.5,496.1 L695.0,496.2 L696.5,496.2 L698.0,496.3 L699.5,496.4 L701.0,496.5 L702.5,496.6 L704.0,496.7 L705.5,496.8 L707.0,497.0 L708.5,497.1 L710.0,497.3 L711.5,497.5 L713.0,497.7 L714.4,497.9 L715.9,498.1 L717.4,498.3 L718.9,498.6 L720.3,498.8 L721.8,499.1 L723.3,499.4 L724.7,499.7 L726.2,500.0 L727.6,500.3 L729.1,500.7 L730.5,501.0 L732.0,501.4 L733.4,501.8 L734.8,502.2 L736.3,502.6 L737.7,503.0 L739.1,503.5 L740.5,503.9 L741.9,504.4 L743.3,504.9 L744.7,505.4 L746.1,505.9 L747.5,506.4 L748.9,507.0 L750.3,507.5 L751.7,508.1 L753.0,508.7 L754.4,509.3 L755.8,509.9 L757.1,510.5 L758.5,511.1 L759.8,511.8 L761.2,512.4 L762.5,513.1 L763.8,513.8 L765.2,514.5 L766.5,515.2 L767.8,515.9 L769.1,516.6 L770.4,517.3 L771.7,518.1 L773.0,518.8 L774.3,519.6 L775.6,520.4 L776.9,521.2 L778.2,521.9 L779.4,522.7 L780.7,523.6 L782.0,524.4 L783.2,525.2 L784.5,526.0 L785.8,526.9 L787.0,527.7 L788.3,528.6 L789.5,529.5 L790.7,530.3 L792.0,531.2 L793.2,532.1 L794.4,533.0 L795.6,533.9 L796.8,534.8 L798.1,535.7 L799.3,536.6 L800.5,537.5 L801.7,538.5 L802.8,539.4 L804.0,540.3 L805.2,541.3 L806.4,542.2 L807.6,543.2 L808.7,544.1 L809.9,545.1 L811.1,546.1 L812.2,547.0 L813.4,548.0 L814.5,549.0 L815.7,550.0 L816.8,550.9 L818.0,551.9 L819.1,552.9 L820.2,553.9 L821.4,554.9 L822.5,555.9 L823.6,556.9 L824.8,557.9 L825.9,558.9 L827.0,559.9 L828.1,561.0 L829.2,562.0 L830.3,563.0 L831.4,564.0 L832.5,565.1 L833.6,566.1 L834.7,567.1 L835.8,568.2 L836.9,569.2 L838.0,570.2 L839.1,571.3 L840.1,572.3 L841.2,573.4 L842.3,574.4 L843.4,575.5 L844.4,576.5 L845.5,577.6 L846.6,578.6 L847.7,579.7 L848.7,580.8 L849.8,581.8 L850.8,582.9 L851.9,583.9 L853.0,585.0 L854.0,586.1 L855.1,587.1 L856.1,588.2 L857.2,589.3 L858.2,590.4 L859.3,591.4 L860.3,592.5 L861.4,593.6 L862.4,594.6 L863.5,595.7 L864.5,596.8 L865.6,597.9 L866.6,598.9 L867.7,600.0 L868.7,601.1 L869.7,602.2 L870.8,603.3 L871.8,604.3 L872.9,605.4 L873.9,606.5 L875.0,607.6 L876.0,608.6 L877.0,609.7 L878.1,610.8 L879.1,611.9 L880.2,612.9 L881.2,614.0 L882.2,615.1 L883.3,616.2 L884.3,617.2 L885.4,618.3 L886.4,619.4 L887.4,620.4 L888.5,621.5 L889.5,622.6 L890.6,623.6 L891.6,624.7 L892.7,625.8 L893.7,626.8 L894.8,627.9 L895.8,629.0 L896.9,630.0 L897.9,631.1 L899.0,632.1 L900.0,633.2 L901.1,634.2 L902.1,635.3 L903.2,636.3 L904.3,637.3 L905.3,638.4 L906.4,639.4 L907.5,640.5 L908.6,641.5 L909.6,642.5 L910.7,643.6 L911.8,644.6 L912.9,645.6 L914.0,646.6 L915.1,647.7 L916.2,648.7 L917.3,649.7 L918.4,650.7 L919.5,651.7 L920.6,652.7 L921.7,653.7 L922.9,654.7 L924.0,655.7 L925.2,656.7 L926.3,657.7 L927.5,658.7 L928.6,659.7 L929.8,660.7 L931.0,661.7 L932.1,662.7 L933.3,663.7 L934.5,664.6 L935.7,665.6 L936.9,666.6 L938.1,667.5 L939.4,668.5 L940.6,669.5 L941.8,670.4 L943.1,671.4 L944.3,672.3 L945.6,673.2 L946.9,674.1 L948.2,675.0 L949.4,675.9 L950.7,676.7 L952.0,677.5 L953.4,678.3 L954.7,679.1 L956.0,679.8 L957.3,680.5 L958.7,681.1 L960.0,681.7 L961.4,682.3 L962.7,682.8 L964.1,683.2 L965.5,683.6 L966.8,684.0 L968.2,684.3 L969.6,684.5 L971.0,684.7 L972.4,684.8 L973.8,684.8 L975.2,684.8 L976.7,684.7 L978.1,684.5 L979.5,684.3 L980.9,684.0 L982.4,683.7 L983.8,683.2 L985.2,682.8 L986.6,682.2 L988.0,681.7 L989.3,681.0 L990.7,680.4 L992.0,679.6 L993.3,678.9 L994.6,678.1 L995.9,677.3 L997.2,676.4 L998.5,675.6 L999.7,674.7 L1001.0,673.8 L1002.2,672.9 L1003.4,671.9 L1004.7,671.0 L1005.9,670.1 L1007.2,669.2 L1008.4,668.3 L1009.7,667.4 L1010.9,666.6 L1012.2,665.7 L1013.5,664.9 L1014.8,664.1 L1016.1,663.4 L1017.4,662.7 L1018.7,662.0 L1020.1,661.4 L1021.5,660.8 L1022.9,660.3 L1024.3,659.8 L1025.7,659.4 L1027.1,659.0 L1028.5,658.6 L1030.0,658.3 L1031.5,658.1 L1032.9,657.9 L1034.4,657.7 L1035.9,657.6 L1037.4,657.6 L1038.9,657.6 L1040.4,657.6 L1042.0,657.7 L1043.5,657.9 L1045.0,658.1 L1046.6,658.3 L1048.1,658.6"/>
<path d="M209.7,659.2 L211.3,658.8 L212.9,658.4 L214.4,658.1 L216.0,657.9 L217.5,657.7 L219.1,657.5 L220.6,657.4 L222.1,657.3 L223.6,657.3 L225.1,657.3 L226.6,657.3 L228.1,657.4 L229.5,657.6 L231.0,657.7 L232.4,658.0 L233.9,658.2 L235.3,658.5 L236.7,658.9 L238.2,659.2 L239.6,659.6 L241.0,660.1 L242.3,660.5 L243.7,661.0 L245.1,661.6 L246.4,662.1 L247.8,662.7 L249.1,663.4 L250.4,664.0 L251.8,664.7 L253.1,665.4 L254.4,666.1 L255.6,666.9 L256.9,667.7 L258.2,668.5 L259.5,669.3 L260.7,670.2 L261.9,671.0 L263.2,671.9 L264.4,672.8 L265.6,673.8 L266.8,674.7 L268.0,675.6 L269.2,676.6 L270.3,677.6 L271.5,678.6 L272.6,679.6 L273.8,680.6 L274.9,681.7 L276.0,682.7 L277.1,683.8 L278.2,684.8 L279.3,685.9 L280.4,686.9 L281.4,688.0 L282.5,689.1 L283.5,690.2 L284.6,691.3 L285.6,692.4 L286.6,693.5 L287.6,694.6 L288.6,695.8 L289.6,696.9 L290.6,698.0 L291.6,699.2 L292.6,700.3 L293.5,701.5 L294.5,702.6 L295.4,703.8 L296.4,704.9 L297.3,706.1 L298.2,707.3 L299.1,708.5 L300.0,709.7 L300.9,710.9 L301.8,712.0 L302.7,713.2 L303.6,714.5 L304.5,715.7 L305.4,716.9 L306.2,718.1 L307.1,719.3 L308.0,720.5 L308.8,721.8 L309.7,723.0 L310.5,724.2 L311.4,725.5 L312.2,726.7 L313.0,727.9 L313.9,729.2 L314.7,730.4 L315.5,731.7 L316.3,732.9 L317.2,734.2 L318.0,735.4 L318.8,736.7 L319.6,738.0 L320.4,739.2 L321.2,740.5 L322.0,741.7 L322.8,743.0 L323.6,744.3 L324.4,745.5 L325.2,746.8 L326.0,748.1 L326.8,749.4 L327.6,750.6 L328.4,751.9 L329.2,753.2 L329.9,754.4 L330.7,755.7 L331.5,757.0 L332.3,758.3 L333.1,759.6 L333.9,760.8 L334.6,762.1 L335.4,763.4 L336.2,764.7 L337.0,766.0 L337.7,767.3 L338.5,768.6 L339.3,769.8 L340.1,771.1 L340.8,772.4 L341.6,773.7 L342.4,775.0 L343.1,776.3 L343.9,777.6 L344.7,778.9 L345.4,780.2 L346.2,781.5 L346.9,782.8 L347.7,784.1 L348.5,785.4 L349.2,786.7 L350.0,788.0 L350.7,789.3 L351.5,790.6 L352.3,791.9 L353.0,793.2 L353.8,794.5 L354.5,795.8 L355.3,797.1 L356.0,798.4 L356.8,799.7 L357.5,801.0 L358.3,802.3 L359.0,803.6 L359.8,804.9 L360.6,806.2 L361.3,807.5 L362.1,808.8 L362.8,810.1 L363.6,811.4 L364.3,812.7 L365.1,814.0 L365.8,815.3 L366.6,816.6 L367.3,817.9 L368.1,819.2 L368.8,820.5 L369.6,821.8 L370.3,823.1 L371.1,824.4 L371.8,825.7 L372.6,827.0 L373.3,828.3 L374.1,829.6 L374.8,830.9 L375.6,832.2 L376.3,833.5 L377.1,834.8 L377.8,836.1 L378.6,837.5 L379.3,838.8 L380.1,840.1 L380.9,841.4 L381.6,842.7 L382.4,844.0 L383.1,845.3 L383.9,846.6 L384.6,847.9 L385.4,849.2 L386.2,850.4 L386.9,851.7 L387.7,853.0 L388.4,854.3 L389.2,855.6 L390.0,856.9 L390.7,858.2 L391.5,859.5 L392.3,860.8 L393.0,862.1 L393.8,863.4 L394.6,864.7 L395.3,866.0 L396.1,867.3 L396.9,868.5 L397.6,869.8 L398.4,871.1 L399.2,872.4 L400.0,873.7 L400.7,875.0 L401.5,876.3 L402.3,877.5 L403.1,878.8 L403.9,880.1 L404.7,881.4 L405.4,882.7 L406.2,883.9 L407.0,885.2 L407.8,886.5 L408.6,887.7 L409.4,889.0 L410.2,890.3 L411.0,891.5 L411.8,892.8 L412.6,894.1 L413.4,895.3 L414.2,896.6 L415.0,897.9 L415.9,899.1 L416.7,900.4 L417.5,901.6 L418.3,902.9 L419.2,904.1 L420.0,905.4 L420.8,906.6 L421.7,907.8 L422.5,909.1 L423.4,910.3 L424.2,911.5 L425.1,912.8 L425.9,914.0 L426.8,915.2 L427.6,916.4 L428.5,917.7 L429.4,918.9 L430.3,920.1 L431.2,921.3 L432.0,922.5 L432.9,923.7 L433.8,924.9 L434.7,926.1 L435.6,927.3 L436.6,928.5 L437.5,929.7 L438.4,930.9 L439.3,932.0 L440.3,933.2 L441.2,934.4 L442.1,935.5 L443.1,936.7 L444.0,937.9 L445.0,939.0 L446.0,940.2 L446.9,941.3 L447.9,942.5 L448.9,943.6 L449.9,944.8 L450.9,945.9 L451.9,947.0 L452.9,948.1 L453.9,949.3 L455.0,950.4 L456.0,951.5 L457.0,952.6 L458.1,953.7 L459.1,954.8 L460.2,955.9 L461.2,957.0 L462.3,958.0 L463.4,959.1 L464.5,960.2 L465.6,961.2 L466.7,962.2 L467.8,963.3 L468.9,964.3 L470.1,965.3 L471.2,966.3 L472.3,967.3 L473.5,968.3 L474.6,969.2 L475.8,970.2 L477.0,971.1 L478.2,972.0 L479.4,972.9 L480.6,973.8 L481.8,974.7 L483.0,975.6 L484.3,976.4 L485.5,977.2 L486.8,978.0 L488.0,978.8 L489.3,979.6 L490.6,980.3 L491.9,981.0 L493.2,981.7 L494.5,982.4 L495.8,983.1 L497.1,983.7 L498.5,984.3 L499.8,984.9 L501.2,985.5 L502.6,986.0 L503.9,986.6 L505.3,987.1 L506.8,987.5 L508.2,988.0 L509.6,988.4 L511.0,988.8 L512.5,989.1 L514.0,989.4 L515.4,989.8 L516.9,990.1 L518.4,990.4 L519.9,990.7 L521.3,991.0 L522.8,991.3 L524.3,991.6 L525.7,992.0 L527.2,992.4 L528.6,992.8 L530.0,993.3 L531.4,993.9 L532.7,994.5 L534.1,995.1 L535.4,995.8 L536.7,996.5 L538.0,997.3 L539.3,998.1 L540.5,999.0 L541.7,999.9 L542.9,1000.8 L544.1,1001.7 L545.3,1002.7 L546.5,1003.7 L547.6,1004.7 L548.7,1005.7 L549.8,1006.7 L550.9,1007.8 L552.0,1008.8 L553.0,1009.9 L554.0,1011.0 L555.0,1012.1 L556.0,1013.2 L557.0,1014.3 L558.0,1015.4 L559.0,1016.6 L559.9,1017.7 L560.8,1018.9 L561.7,1020.0 L562.6,1021.2 L563.5,1022.4 L564.4,1023.6 L565.3,1024.8 L566.1,1026.0 L567.0,1027.2 L567.8,1028.4 L568.6,1029.6 L569.5,1030.9 L570.3,1032.1 L571.1,1033.4 L571.9,1034.6 L572.6,1035.9 L573.4,1037.1 L574.2,1038.4 L574.9,1039.7 L575.7,1041.0 L576.4,1042.3 L577.2,1043.6 L577.9,1044.9 L578.6,1046.2 L579.4,1047.5 L580.1,1048.8 L580.8,1050.1 L581.5,1051.4 L582.2,1052.7 L582.9,1054.1 L583.6,1055.4 L584.4,1056.7 L585.1,1058.0 L585.8,1059.4 L586.5,1060.7 L587.2,1062.0 L587.9,1063.4 L588.6,1064.7 L589.3,1066.1 L590.0,1067.4 L590.7,1068.7 L591.4,1070.1 L592.1,1071.4 L592.8,1072.7 L593.5,1074.1 L594.3,1075.4 L595.0,1076.7 L595.7,1078.1 L596.4,1079.4 L597.2,1080.7 L597.9,1082.1 L598.7,1083.4 L599.4,1084.7 L600.2,1086.0 L601.0,1087.4 L601.8,1088.7 L602.5,1090.0 L603.3,1091.3 L604.1,1092.6 L605.0,1093.9 L605.8,1095.2 L606.6,1096.5 L607.5,1097.7 L608.3,1099.0 L609.2,1100.3 L610.0,1101.5 L610.9,1102.8 L611.8,1104.0 L612.7,1105.3 L613.6,1106.5 L614.5,1107.7 L615.4,1109.0 L616.4,1110.2 L617.3,1111.4 L618.3,1112.5 L619.2,1113.7 L620.2,1114.9 L621.2,1116.0 L622.2,1117.2 L623.2,1118.3 L624.2,1119.4 L625.2,1120.5 L626.3,1121.6 L627.3,1122.7 L628.4,1123.8 L629.4,1124.8 L630.5,1125.8 L631.6,1126.9 L632.7,1127.9 L633.8,1128.8 L634.9,1129.8 L636.0,1130.8 L637.2,1131.7 L638.3,1132.6 L639.5,1133.5 L640.7,1134.4 L641.8,1135.3 L643.0,1136.1 L644.2,1137.0 L645.5,1137.8 L646.7,1138.6 L647.9,1139.3 L649.2,1140.1 L650.4,1140.8 L651.7,1141.5 L653.0,1142.2 L654.3,1142.9 L655.6,1143.5 L656.9,1144.1 L658.2,1144.7 L659.6,1145.3 L660.9,1145.8 L662.3,1146.3 L663.7,1146.8 L665.1,1147.3 L666.5,1147.8 L667.9,1148.2 L669.3,1148.6 L670.7,1148.9 L672.2,1149.3 L673.6,1149.6 L675.1,1149.9 L676.6,1150.2 L678.0,1150.5 L679.5,1150.7 L681.0,1150.9 L682.5,1151.1 L684.0,1151.3 L685.5,1151.4 L687.0,1151.5 L688.5,1151.6 L690.1,1151.7 L691.6,1151.8 L693.1,1151.8 L694.6,1151.8 L696.2,1151.8 L697.7,1151.8 L699.2,1151.8 L700.8,1151.7 L702.3,1151.6 L703.9,1151.5 L705.4,1151.4 L706.9,1151.2 L708.5,1151.1 L710.0,1150.9 L711.6,1150.7 L713.1,1150.5 L714.6,1150.3 L716.2,1150.0 L717.7,1149.7 L719.2,1149.4 L720.7,1149.1 L722.2,1148.8 L723.7,1148.5 L725.3,1148.1 L726.7,1147.8 L728.2,1147.4 L729.7,1147.0 L731.2,1146.5 L732.7,1146.1 L734.1,1145.7 L735.6,1145.2 L737.0,1144.7 L738.5,1144.2 L739.9,1143.7 L741.3,1143.2 L742.7,1142.6 L744.1,1142.0 L745.5,1141.4 L746.8,1140.8 L748.2,1140.2 L749.5,1139.6 L750.9,1138.9 L752.2,1138.2 L753.5,1137.5 L754.7,1136.8 L756.0,1136.0 L757.2,1135.3 L758.5,1134.5 L759.7,1133.6 L760.9,1132.8 L762.0,1131.9 L763.2,1131.0 L764.3,1130.1 L765.4,1129.2 L766.5,1128.2 L767.6,1127.2 L768.6,1126.2 L769.7,1125.2 L770.7,1124.1 L771.7,1123.0 L772.6,1121.9 L773.6,1120.8 L774.5,1119.6 L775.5,1118.5 L776.4,1117.3 L777.2,1116.1 L778.1,1114.9 L779.0,1113.7 L779.8,1112.4 L780.7,1111.2 L781.5,1109.9 L782.3,1108.7 L783.1,1107.4 L783.9,1106.1 L784.7,1104.8 L785.5,1103.5 L786.2,1102.2 L787.0,1100.8 L787.7,1099.5 L788.5,1098.2 L789.2,1096.9 L790.0,1095.5 L790.7,1094.2 L791.4,1092.9 L792.1,1091.5 L792.9,1090.2 L793.6,1088.9 L794.3,1087.5 L795.0,1086.2 L795.7,1084.8 L796.4,1083.5 L797.0,1082.1 L797.7,1080.8 L798.4,1079.4 L799.1,1078.1 L799.7,1076.7 L800.4,1075.4 L801.1,1074.0 L801.7,1072.7 L802.4,1071.3 L803.0,1069.9 L803.7,1068.6 L804.3,1067.2 L804.9,1065.9 L805.6,1064.5 L806.2,1063.1 L806.8,1061.8 L807.5,1060.4 L808.1,1059.0 L808.7,1057.6 L809.3,1056.3 L809.9,1054.9 L810.5,1053.5 L811.1,1052.1 L811.7,1050.8 L812.3,1049.4 L812.9,1048.0 L813.5,1046.6 L814.1,1045.2 L814.7,1043.9 L815.3,1042.5 L815.9,1041.1 L816.5,1039.7 L817.1,1038.3 L817.6,1036.9 L818.2,1035.6 L818.8,1034.2 L819.4,1032.8 L819.9,1031.4 L820.5,1030.0 L821.1,1028.6 L821.6,1027.2 L822.2,1025.8 L822.8,1024.4 L823.3,1023.1 L823.9,1021.7 L824.4,1020.3 L825.0,1018.9 L825.6,1017.5 L826.1,1016.1 L826.7,1014.7 L827.2,1013.3 L827.8,1011.9 L828.3,1010.5 L828.9,1009.1 L829.5,1007.7 L830.0,1006.3 L830.6,1004.9 L831.1,1003.6 L831.7,1002.2 L832.2,1000.8 L832.8,999.4 L833.3,998.0 L833.9,996.6 L834.4,995.2 L835.0,993.8 L835.6,992.4 L836.1,991.0 L836.7,989.6 L837.2,988.2 L837.8,986.8 L838.3,985.4 L838.9,984.1 L839.5,982.7 L840.0,981.3 L840.6,979.9 L841.1,978.5 L841.7,977.1 L842.3,975.7 L842.8,974.3 L843.4,972.9 L843.9,971.6 L844.5,970.2 L845.1,968.8 L845.6,967.4 L846.2,966.0 L846.8,964.6 L847.3,963.2 L847.9,961.8 L848.5,960.4 L849.0,959.1 L849.6,957.7 L850.2,956.3 L850.7,954.9 L851.3,953.5 L851.9,952.1 L852.4,950.7 L853.0,949.3 L853.6,948.0 L854.1,946.6 L854.7,945.2 L855.3,943.8 L855.9,942.4 L856.4,941.0 L857.0,939.6 L857.6,938.3 L858.1,936.9 L858.7,935.5 L859.3,934.1 L859.9,932.7 L860.4,931.3 L861.0,930.0 L861.6,928.6 L862.2,927.2 L862.7,925.8 L863.3,924.4 L863.9,923.0 L864.5,921.6 L865.0,920.3 L865.6,918.9 L866.2,917.5 L866.8,916.1 L867.4,914.7 L867.9,913.3 L868.5,912.0 L869.1,910.6 L869.7,909.2 L870.2,907.8 L870.8,906.4 L871.4,905.0 L872.0,903.7 L872.6,902.3 L873.1,900.9 L873.7,899.5 L874.3,898.1 L874.9,896.7 L875.5,895.4 L876.1,894.0 L876.6,892.6 L877.2,891.2 L877.8,889.8 L878.4,888.4 L879.0,887.0 L879.6,885.7 L880.1,884.3 L880.7,882.9 L881.3,881.5 L881.9,880.1 L882.5,878.7 L883.1,877.4 L883.6,876.0 L884.2,874.6 L884.8,873.2 L885.4,871.8 L886.0,870.4 L886.6,869.1 L887.2,867.7 L887.7,866.3 L888.3,864.9 L888.9,863.5 L889.5,862.1 L890.1,860.7 L890.7,859.4 L891.3,858.0 L891.8,856.6 L892.4,855.2 L893.0,853.8 L893.6,852.4 L894.2,851.0 L894.8,849.7 L895.4,848.3 L896.0,846.9 L896.5,845.5 L897.1,844.1 L897.7,842.7 L898.3,841.3 L898.9,840.0 L899.5,838.6 L900.1,837.2 L900.7,835.8 L901.3,834.4 L901.9,833.0 L902.4,831.6 L903.0,830.2 L903.6,828.9 L904.2,827.5 L904.8,826.1 L905.4,824.7 L906.0,823.3 L906.6,821.9 L907.2,820.6 L907.8,819.2 L908.4,817.8 L909.0,816.4 L909.6,815.0 L910.2,813.6 L910.8,812.3 L911.4,810.9 L912.0,809.5 L912.6,808.1 L913.3,806.8 L913.9,805.4 L914.5,804.0 L915.1,802.6 L915.7,801.3 L916.3,799.9 L917.0,798.5 L917.6,797.1 L918.2,795.8 L918.8,794.4 L919.5,793.0 L920.1,791.7 L920.7,790.3 L921.4,788.9 L922.0,787.6 L922.7,786.2 L923.3,784.9 L923.9,783.5 L924.6,782.2 L925.2,780.8 L925.9,779.4 L926.5,778.1 L927.2,776.7 L927.9,775.4 L928.5,774.0 L929.2,772.7 L929.9,771.4 L930.5,770.0 L931.2,768.7 L931.9,767.3 L932.6,766.0 L933.3,764.7 L933.9,763.3 L934.6,762.0 L935.3,760.7 L936.0,759.4 L936.7,758.0 L937.4,756.7 L938.1,755.4 L938.9,754.1 L939.6,752.8 L940.3,751.4 L941.0,750.1 L941.7,748.8 L942.5,747.5 L943.2,746.2 L943.9,744.9 L944.7,743.6 L945.4,742.3 L946.2,741.0 L946.9,739.7 L947.7,738.4 L948.5,737.1 L949.2,735.9 L950.0,734.6 L950.8,733.3 L951.5,732.0 L952.3,730.8 L953.1,729.5 L953.9,728.2 L954.7,727.0 L955.5,725.7 L956.3,724.4 L957.1,723.2 L958.0,721.9 L958.8,720.7 L959.6,719.4 L960.4,718.2 L961.3,716.9 L962.1,715.7 L963.0,714.5 L963.8,713.2 L964.7,712.0 L965.5,710.8 L966.4,709.6 L967.3,708.4 L968.2,707.1 L969.0,705.9 L969.9,704.7 L970.8,703.5 L971.7,702.3 L972.7,701.2 L973.6,700.0 L974.5,698.8 L975.4,697.6 L976.4,696.5 L977.3,695.3 L978.3,694.2 L979.3,693.1 L980.3,691.9 L981.3,690.8 L982.3,689.7 L983.3,688.6 L984.3,687.5 L985.3,686.5 L986.4,685.4 L987.4,684.4 L988.5,683.3 L989.6,682.3 L990.7,681.3 L991.8,680.3 L992.9,679.3 L994.0,678.3 L995.2,677.4 L996.3,676.4 L997.5,675.5 L998.7,674.6 L999.9,673.7 L1001.1,672.8 L1002.3,671.9 L1003.6,671.1 L1004.8,670.3 L1006.1,669.5 L1007.4,668.7 L1008.7,667.9 L1010.0,667.1 L1011.4,666.4 L1012.7,665.7 L1014.1,665.0 L1015.5,664.3 L1016.9,663.7 L1018.3,663.1 L1019.7,662.5 L1021.2,661.9 L1022.6,661.4 L1024.1,660.9 L1025.5,660.4 L1027.0,660.0 L1028.4,659.6 L1029.9,659.3 L1031.3,658.9 L1032.8,658.7 L1034.3,658.4 L1035.7,658.2 L1037.2,658.1 L1038.7,658.0 L1040.1,657.9 L1041.6,657.9 L1043.0,657.9 L1044.5,658.0 L1045.9,658.1"/>
<path d="M209.8,760.0 L211.3,759.7 L212.7,759.3 L214.2,759.0 L215.7,758.7 L217.3,758.5 L218.8,758.3 L220.3,758.1 L221.9,757.9 L223.4,757.8 L225.0,757.7 L226.6,757.7 L228.1,757.6 L229.7,757.6 L231.3,757.7 L232.8,757.7 L234.4,757.8 L235.9,758.0 L237.5,758.2 L239.0,758.4 L240.5,758.6 L242.1,758.9 L243.6,759.2 L245.1,759.6 L246.5,760.0 L248.0,760.4 L249.4,760.9 L250.8,761.4 L252.2,761.9 L253.6,762.5 L254.9,763.1 L256.3,763.8 L257.5,764.5 L258.8,765.2 L260.0,766.0 L261.2,766.8 L262.4,767.7 L263.6,768.6 L264.7,769.5 L265.8,770.5 L266.8,771.5 L267.9,772.5 L268.9,773.6 L269.9,774.6 L270.9,775.7 L271.8,776.9 L272.8,778.0 L273.7,779.2 L274.6,780.4 L275.5,781.6 L276.4,782.8 L277.2,784.0 L278.1,785.3 L278.9,786.5 L279.8,787.8 L280.6,789.1 L281.4,790.3 L282.2,791.6 L283.0,792.9 L283.8,794.2 L284.6,795.5 L285.3,796.8 L286.1,798.1 L286.9,799.4 L287.6,800.7 L288.4,802.0 L289.1,803.3 L289.8,804.6 L290.6,805.9 L291.3,807.2 L292.0,808.5 L292.7,809.8 L293.4,811.2 L294.1,812.5 L294.8,813.8 L295.5,815.2 L296.2,816.5 L296.9,817.8 L297.5,819.2 L298.2,820.5 L298.9,821.9 L299.5,823.2 L300.2,824.6 L300.8,825.9 L301.4,827.3 L302.1,828.6 L302.7,830.0 L303.3,831.4 L303.9,832.7 L304.6,834.1 L305.2,835.5 L305.8,836.9 L306.4,838.2 L307.0,839.6 L307.6,841.0 L308.2,842.4 L308.7,843.7 L309.3,845.1 L309.9,846.5 L310.5,847.9 L311.0,849.3 L311.6,850.7 L312.2,852.1 L312.7,853.5 L313.3,854.9 L313.8,856.3 L314.4,857.7 L314.9,859.1 L315.5,860.5 L316.0,861.9 L316.6,863.3 L317.1,864.7 L317.6,866.1 L318.1,867.5 L318.7,868.9 L319.2,870.3 L319.7,871.7 L320.2,873.1 L320.8,874.6 L321.3,876.0 L321.8,877.4 L322.3,878.8 L322.8,880.2 L323.3,881.6 L323.8,883.1 L324.3,884.5 L324.8,885.9 L325.3,887.3 L325.8,888.7 L326.3,890.2 L326.8,891.6 L327.3,893.0 L327.8,894.4 L328.3,895.9 L328.8,897.3 L329.3,898.7 L329.8,900.1 L330.3,901.6 L330.8,903.0 L331.3,904.4 L331.8,905.8 L332.3,907.3 L332.8,908.7 L333.3,910.1 L333.8,911.6 L334.2,913.0 L334.7,914.4 L335.2,915.8 L335.7,917.3 L336.2,918.7 L336.7,920.1 L337.2,921.5 L337.7,923.0 L338.2,924.4 L338.7,925.8 L339.2,927.2 L339.7,928.7 L340.2,930.1 L340.7,931.5 L341.2,932.9 L341.7,934.4 L342.2,935.8 L342.7,937.2 L343.2,938.6 L343.7,940.0 L344.2,941.5 L344.7,942.9 L345.2,944.3 L345.8,945.7 L346.3,947.1 L346.8,948.5 L347.3,950.0 L347.8,951.4 L348.3,952.8 L348.8,954.2 L349.4,955.6 L349.9,957.0 L350.4,958.5 L350.9,959.9 L351.5,961.3 L352.0,962.7 L352.5,964.1 L353.0,965.5 L353.6,966.9 L354.1,968.3 L354.6,969.7 L355.2,971.1 L355.7,972.5 L356.3,973.9 L356.8,975.4 L357.3,976.8 L357.9,978.2 L358.4,979.6 L359.0,981.0 L359.5,982.4 L360.1,983.8 L360.6,985.2 L361.2,986.6 L361.7,988.0 L362.3,989.4 L362.9,990.7 L363.4,992.1 L364.0,993.5 L364.6,994.9 L365.1,996.3 L365.7,997.7 L366.3,999.1 L366.8,1000.5 L367.4,1001.9 L368.0,1003.3 L368.6,1004.6 L369.2,1006.0 L369.7,1007.4 L370.3,1008.8 L370.9,1010.2 L371.5,1011.5 L372.1,1012.9 L372.7,1014.3 L373.3,1015.7 L373.9,1017.0 L374.5,1018.4 L375.1,1019.8 L375.7,1021.2 L376.3,1022.5 L377.0,1023.9 L377.6,1025.3 L378.2,1026.6 L378.8,1028.0 L379.4,1029.4 L380.1,1030.7 L380.7,1032.1 L381.3,1033.4 L382.0,1034.8 L382.6,1036.2 L383.2,1037.5 L383.9,1038.9 L384.5,1040.2 L385.2,1041.6 L385.8,1042.9 L386.5,1044.3 L387.1,1045.6 L387.8,1047.0 L388.5,1048.3 L389.1,1049.7 L389.8,1051.0 L390.5,1052.3 L391.2,1053.7 L391.8,1055.0 L392.5,1056.3 L393.2,1057.7 L393.9,1059.0 L394.6,1060.3 L395.3,1061.7 L396.0,1063.0 L396.7,1064.3 L397.4,1065.6 L398.1,1067.0 L398.8,1068.3 L399.5,1069.6 L400.2,1070.9 L401.0,1072.2 L401.7,1073.6 L402.4,1074.9 L403.1,1076.2 L403.9,1077.5 L404.6,1078.8 L405.4,1080.1 L406.1,1081.4 L406.8,1082.7 L407.6,1084.0 L408.4,1085.3 L409.1,1086.6 L409.9,1087.9 L410.6,1089.2 L411.4,1090.5 L412.2,1091.8 L413.0,1093.0 L413.8,1094.3 L414.5,1095.6 L415.3,1096.9 L416.1,1098.2 L416.9,1099.5 L417.7,1100.7 L418.5,1102.0 L419.4,1103.3 L420.2,1104.5 L421.0,1105.8 L421.8,1107.1 L422.6,1108.3 L423.5,1109.6 L424.3,1110.9 L425.1,1112.1 L426.0,1113.4 L426.8,1114.6 L427.7,1115.9 L428.5,1117.1 L429.4,1118.4 L430.3,1119.6 L431.1,1120.9 L432.0,1122.1 L432.9,1123.3 L433.8,1124.6 L434.7,1125.8 L435.6,1127.0 L436.5,1128.2 L437.4,1129.5 L438.3,1130.7 L439.2,1131.9 L440.1,1133.1 L441.1,1134.2 L442.0,1135.4 L442.9,1136.6 L443.9,1137.8 L444.9,1138.9 L445.8,1140.1 L446.8,1141.2 L447.8,1142.4 L448.8,1143.5 L449.8,1144.6 L450.8,1145.7 L451.9,1146.8 L452.9,1147.9 L454.0,1148.9 L455.0,1150.0 L456.1,1151.0 L457.2,1152.0 L458.2,1153.1 L459.3,1154.1 L460.5,1155.0 L461.6,1156.0 L462.7,1157.0 L463.9,1157.9 L465.0,1158.8 L466.2,1159.7 L467.4,1160.6 L468.6,1161.5 L469.8,1162.4 L471.0,1163.2 L472.3,1164.0 L473.5,1164.8 L474.8,1165.6 L476.1,1166.4 L477.4,1167.1 L478.7,1167.9 L480.0,1168.6 L481.4,1169.2 L482.7,1169.9 L484.1,1170.6 L485.5,1171.2 L486.8,1171.8 L488.2,1172.4 L489.6,1172.9 L491.1,1173.5 L492.5,1174.0 L493.9,1174.5 L495.3,1175.0 L496.8,1175.4 L498.2,1175.9 L499.7,1176.3 L501.1,1176.7 L502.6,1177.1 L504.1,1177.4 L505.6,1177.7 L507.0,1178.0 L508.5,1178.3 L510.0,1178.6 L511.5,1178.8 L512.9,1179.1 L514.4,1179.3 L515.9,1179.4 L517.4,1179.6 L518.9,1179.7 L520.4,1179.9 L521.9,1180.0 L523.3,1180.1 L524.8,1180.2 L526.3,1180.3 L527.8,1180.3 L529.3,1180.4 L530.8,1180.4 L532.3,1180.5 L533.8,1180.5 L535.3,1180.6 L536.8,1180.6 L538.3,1180.6 L539.8,1180.6 L541.3,1180.7 L542.8,1180.7 L544.3,1180.7 L545.8,1180.7 L547.3,1180.8 L548.9,1180.8 L550.4,1180.9 L551.9,1180.9 L553.4,1181.0 L554.9,1181.0 L556.4,1181.1 L557.9,1181.2 L559.5,1181.3 L561.0,1181.4 L562.5,1181.5 L564.0,1181.6 L565.5,1181.8 L567.0,1181.9 L568.6,1182.1 L570.1,1182.3 L571.6,1182.5 L573.1,1182.7 L574.6,1182.9 L576.1,1183.1 L577.6,1183.4 L579.1,1183.6 L580.6,1183.9 L582.0,1184.2 L583.5,1184.5 L585.0,1184.9 L586.4,1185.2 L587.9,1185.6 L589.3,1185.9 L590.8,1186.3 L592.2,1186.8 L593.7,1187.2 L595.1,1187.7 L596.5,1188.1 L597.9,1188.6 L599.3,1189.2 L600.7,1189.7 L602.1,1190.3 L603.4,1190.9 L604.8,1191.5 L606.1,1192.1 L607.5,1192.8 L608.8,1193.4 L610.1,1194.1 L611.4,1194.8 L612.7,1195.6 L614.0,1196.3 L615.2,1197.1 L616.5,1197.9 L617.8,1198.7 L619.0,1199.6 L620.2,1200.4 L621.4,1201.3 L622.6,1202.2 L623.8,1203.1 L625.0,1204.0 L626.2,1205.0 L627.3,1205.9 L628.5,1206.9 L629.6,1207.9 L630.7,1208.9 L631.9,1209.9 L633.0,1210.9 L634.0,1212.0 L635.1,1213.1 L636.2,1214.1 L637.2,1215.2 L638.3,1216.3 L639.3,1217.4 L640.3,1218.6 L641.3,1219.7 L642.3,1220.8 L643.3,1222.0 L644.3,1223.2 L645.2,1224.3 L646.2,1225.5 L647.1,1226.7 L648.1,1227.9 L649.0,1229.1 L649.9,1230.3 L650.9,1231.6 L651.8,1232.8 L652.7,1234.0 L653.6,1235.2 L654.5,1236.4 L655.4,1237.7 L656.3,1238.9 L657.2,1240.1 L658.1,1241.3 L659.0,1242.5 L659.9,1243.7 L660.9,1244.9 L661.8,1246.1 L662.7,1247.3 L663.6,1248.5 L664.6,1249.7 L665.5,1250.9 L666.4,1252.0 L667.4,1253.2 L668.4,1254.3 L669.3,1255.5 L670.3,1256.6 L671.3,1257.7 L672.3,1258.8 L673.4,1259.8 L674.4,1260.9 L675.4,1261.9 L676.5,1263.0 L677.6,1264.0 L678.7,1265.0 L679.8,1265.9 L681.0,1266.9 L682.1,1267.8 L683.3,1268.7 L684.5,1269.6 L685.7,1270.5 L686.9,1271.3 L688.2,1272.1 L689.5,1272.9 L690.8,1273.7 L692.1,1274.4 L693.5,1275.1 L694.9,1275.8"/>
<path d="M695.1,1275.8 L696.5,1275.3 L698.0,1274.7 L699.4,1274.1 L700.8,1273.5 L702.1,1272.8 L703.5,1272.1 L704.8,1271.3 L706.0,1270.6 L707.3,1269.7 L708.5,1268.9 L709.7,1268.1 L710.9,1267.2 L712.1,1266.3 L713.2,1265.3 L714.4,1264.4 L715.5,1263.4 L716.5,1262.4 L717.6,1261.3 L718.7,1260.3 L719.7,1259.2 L720.7,1258.1 L721.7,1257.0 L722.7,1255.9 L723.7,1254.7 L724.6,1253.6 L725.5,1252.4 L726.5,1251.2 L727.4,1250.0 L728.3,1248.8 L729.2,1247.6 L730.0,1246.4 L730.9,1245.2 L731.8,1243.9 L732.6,1242.7 L733.5,1241.4 L734.3,1240.2 L735.1,1238.9 L735.9,1237.6 L736.7,1236.3 L737.5,1235.1 L738.3,1233.8 L739.1,1232.5 L739.9,1231.2 L740.7,1229.9 L741.5,1228.6 L742.2,1227.3 L743.0,1226.0 L743.8,1224.7 L744.5,1223.4 L745.3,1222.1 L746.0,1220.8 L746.8,1219.5 L747.5,1218.2 L748.3,1216.8 L749.0,1215.5 L749.8,1214.2 L750.5,1212.9 L751.3,1211.6 L752.1,1210.3 L752.8,1209.0 L753.6,1207.7 L754.3,1206.4 L755.1,1205.1 L755.9,1203.8 L756.6,1202.5 L757.4,1201.2 L758.2,1199.9 L759.0,1198.6 L759.7,1197.3 L760.5,1196.0 L761.3,1194.8 L762.1,1193.5 L762.9,1192.2 L763.8,1191.0 L764.6,1189.7 L765.4,1188.5 L766.2,1187.2 L767.1,1186.0 L767.9,1184.7 L768.8,1183.5 L769.6,1182.2 L770.5,1181.0 L771.3,1179.8 L772.2,1178.6 L773.1,1177.3 L773.9,1176.1 L774.8,1174.9 L775.7,1173.7 L776.6,1172.5 L777.5,1171.3 L778.4,1170.1 L779.3,1168.9 L780.2,1167.7 L781.1,1166.5 L782.0,1165.3 L782.9,1164.1 L783.8,1162.9 L784.8,1161.7 L785.7,1160.5 L786.6,1159.3 L787.5,1158.2 L788.5,1157.0 L789.4,1155.8 L790.3,1154.6 L791.3,1153.5 L792.2,1152.3 L793.2,1151.1 L794.1,1150.0 L795.1,1148.8 L796.0,1147.6 L797.0,1146.5 L798.0,1145.3 L798.9,1144.2 L799.9,1143.0 L800.8,1141.9 L801.8,1140.7 L802.8,1139.5 L803.7,1138.4 L804.7,1137.2 L805.7,1136.1 L806.7,1134.9 L807.6,1133.8 L808.6,1132.6 L809.6,1131.5 L810.5,1130.3 L811.5,1129.2 L812.5,1128.0 L813.4,1126.9 L814.4,1125.7 L815.4,1124.6 L816.3,1123.4 L817.3,1122.2 L818.3,1121.1 L819.2,1119.9 L820.2,1118.8 L821.1,1117.6 L822.1,1116.4 L823.0,1115.3 L824.0,1114.1 L824.9,1112.9 L825.9,1111.8 L826.8,1110.6 L827.7,1109.4 L828.7,1108.2 L829.6,1107.0 L830.5,1105.8 L831.4,1104.7 L832.4,1103.5 L833.3,1102.3 L834.2,1101.1 L835.1,1099.9 L836.0,1098.7 L836.8,1097.4 L837.7,1096.2 L838.6,1095.0 L839.5,1093.8 L840.3,1092.6 L841.2,1091.3 L842.0,1090.1 L842.9,1088.8 L843.7,1087.6 L844.5,1086.3 L845.4,1085.1 L846.2,1083.8 L847.0,1082.6 L847.8,1081.3 L848.6,1080.0 L849.4,1078.8 L850.2,1077.5 L851.0,1076.2 L851.8,1074.9 L852.5,1073.6 L853.3,1072.3 L854.1,1071.0 L854.8,1069.7 L855.6,1068.4 L856.3,1067.1 L857.1,1065.8 L857.8,1064.5 L858.6,1063.2 L859.3,1061.9 L860.0,1060.6 L860.7,1059.2 L861.5,1057.9 L862.2,1056.6 L862.9,1055.2 L863.6,1053.9 L864.3,1052.6 L865.0,1051.2 L865.7,1049.9 L866.4,1048.6 L867.1,1047.2 L867.8,1045.9 L868.4,1044.5 L869.1,1043.2 L869.8,1041.8 L870.5,1040.5 L871.2,1039.1 L871.8,1037.8 L872.5,1036.4 L873.2,1035.1 L873.8,1033.7 L874.5,1032.4 L875.1,1031.0 L875.8,1029.7 L876.5,1028.3 L877.1,1027.0 L877.8,1025.6 L878.4,1024.2 L879.1,1022.9 L879.7,1021.5 L880.4,1020.2 L881.0,1018.8 L881.7,1017.4 L882.3,1016.1 L882.9,1014.7 L883.6,1013.4 L884.2,1012.0 L884.9,1010.6 L885.5,1009.3 L886.1,1007.9 L886.8,1006.6 L887.4,1005.2 L888.0,1003.8 L888.7,1002.5 L889.3,1001.1 L889.9,999.8 L890.6,998.4 L891.2,997.0 L891.8,995.7 L892.4,994.3 L893.1,992.9 L893.7,991.6 L894.3,990.2 L894.9,988.8 L895.5,987.5 L896.2,986.1 L896.8,984.8 L897.4,983.4 L898.0,982.0 L898.6,980.7 L899.2,979.3 L899.8,977.9 L900.4,976.5 L901.1,975.2 L901.7,973.8 L902.3,972.4 L902.9,971.1 L903.5,969.7 L904.1,968.3 L904.7,967.0 L905.3,965.6 L905.9,964.2 L906.5,962.9 L907.1,961.5 L907.7,960.1 L908.3,958.7 L908.9,957.4 L909.5,956.0 L910.1,954.6 L910.7,953.2 L911.3,951.9 L911.8,950.5 L912.4,949.1 L913.0,947.7 L913.6,946.4 L914.2,945.0 L914.8,943.6 L915.4,942.2 L916.0,940.9 L916.5,939.5 L917.1,938.1 L917.7,936.7 L918.3,935.3 L918.9,934.0 L919.5,932.6 L920.0,931.2 L920.6,929.8 L921.2,928.4 L921.8,927.1 L922.4,925.7 L922.9,924.3 L923.5,922.9 L924.1,921.5 L924.7,920.1 L925.2,918.7 L925.8,917.4 L926.4,916.0 L926.9,914.6 L927.5,913.2 L928.1,911.8 L928.7,910.4 L929.2,909.0 L929.8,907.6 L930.4,906.2 L930.9,904.9 L931.5,903.5 L932.1,902.1 L932.6,900.7 L933.2,899.3 L933.7,897.9 L934.3,896.5 L934.9,895.1 L935.4,893.7 L936.0,892.3 L936.6,890.9 L937.1,889.5 L937.7,888.1 L938.2,886.7 L938.8,885.3 L939.4,883.9 L939.9,882.5 L940.5,881.1 L941.0,879.7 L941.6,878.3 L942.1,876.9 L942.7,875.5 L943.3,874.1 L943.8,872.7 L944.4,871.3 L944.9,869.9 L945.5,868.5 L946.0,867.1 L946.6,865.7 L947.1,864.2 L947.7,862.8 L948.2,861.4 L948.8,860.0 L949.3,858.6 L949.9,857.2 L950.4,855.8 L951.0,854.4 L951.5,852.9 L952.1,851.5 L952.6,850.1 L953.2,848.7 L953.7,847.3 L954.3,845.9 L954.8,844.4 L955.4,843.0 L955.9,841.6 L956.5,840.2 L957.0,838.8 L957.6,837.3 L958.1,835.9 L958.7,834.5 L959.2,833.1 L959.8,831.6 L960.3,830.2 L960.9,828.8 L961.5,827.4 L962.0,826.0 L962.6,824.6 L963.2,823.2 L963.7,821.8 L964.3,820.4 L964.9,819.0 L965.5,817.6 L966.1,816.2 L966.7,814.8 L967.3,813.4 L968.0,812.0 L968.6,810.7 L969.2,809.3 L969.9,808.0 L970.5,806.6 L971.2,805.3 L971.9,803.9 L972.6,802.6 L973.3,801.3 L974.0,800.0 L974.7,798.7 L975.4,797.4 L976.2,796.1 L976.9,794.8 L977.7,793.5 L978.5,792.3 L979.3,791.0 L980.1,789.8 L980.9,788.6 L981.7,787.4 L982.6,786.2 L983.5,785.0 L984.4,783.8 L985.3,782.6 L986.2,781.5 L987.1,780.3 L988.1,779.2 L989.1,778.1 L990.1,777.0 L991.1,775.9 L992.1,774.9 L993.1,773.8 L994.2,772.8 L995.3,771.8 L996.4,770.8 L997.5,769.8 L998.7,768.8 L999.8,767.9 L1001.0,767.0 L1002.2,766.1 L1003.4,765.3 L1004.7,764.4 L1005.9,763.6 L1007.2,762.9 L1008.4,762.1 L1009.7,761.4 L1011.1,760.8 L1012.4,760.1 L1013.7,759.5 L1015.1,759.0 L1016.4,758.5 L1017.8,758.0 L1019.2,757.5 L1020.6,757.1 L1022.1,756.8 L1023.5,756.5 L1024.9,756.2 L1026.4,756.0 L1027.9,755.8 L1029.4,755.7 L1030.8,755.7 L1032.3,755.6 L1033.8,755.7 L1035.4,755.7 L1036.9,755.8 L1038.4,756.0 L1039.9,756.2 L1041.5,756.5 L1043.0,756.9 L1044.5,757.2 L1046.1,757.7 L1047.6,758.2 L1049.2,758.7 L1050.7,759.3 L1052.2,759.9 L1053.8,760.7 L1055.3,761.4"/>
<path d="M210.0,864.1 L211.5,863.5 L212.9,863.0 L214.4,862.5 L215.9,862.1 L217.4,861.7 L218.9,861.5 L220.4,861.2 L221.9,861.1 L223.4,860.9 L224.8,860.9 L226.3,860.9 L227.8,860.9 L229.3,861.0 L230.7,861.2 L232.2,861.4 L233.7,861.6 L235.1,861.9 L236.6,862.2 L238.0,862.6 L239.4,863.0 L240.9,863.5 L242.3,864.0 L243.7,864.5 L245.1,865.1 L246.5,865.7 L247.9,866.3 L249.2,867.0 L250.6,867.7 L251.9,868.4 L253.3,869.1 L254.6,869.9 L255.9,870.7 L257.2,871.5 L258.5,872.3 L259.8,873.2 L261.0,874.1 L262.2,875.0 L263.5,875.9 L264.7,876.8 L265.9,877.7 L267.1,878.7 L268.2,879.6 L269.4,880.6 L270.5,881.6 L271.6,882.6 L272.7,883.6 L273.8,884.6 L274.9,885.6 L276.0,886.7 L277.1,887.7 L278.1,888.8 L279.2,889.9 L280.2,891.0 L281.2,892.0 L282.2,893.1 L283.2,894.3 L284.2,895.4 L285.2,896.5 L286.2,897.6 L287.2,898.8 L288.1,899.9 L289.1,901.1 L290.0,902.2 L291.0,903.4 L291.9,904.6 L292.8,905.7 L293.8,906.9 L294.7,908.1 L295.6,909.3 L296.5,910.5 L297.4,911.7 L298.3,912.9 L299.2,914.1 L300.1,915.3 L301.0,916.5 L301.9,917.7 L302.8,918.9 L303.7,920.1 L304.6,921.3 L305.5,922.5 L306.3,923.7 L307.2,925.0 L308.1,926.2 L308.9,927.4 L309.8,928.6 L310.7,929.9 L311.5,931.1 L312.4,932.3 L313.2,933.5 L314.1,934.8 L314.9,936.0 L315.8,937.3 L316.6,938.5 L317.5,939.7 L318.3,941.0 L319.2,942.2 L320.0,943.5 L320.8,944.7 L321.7,946.0 L322.5,947.2 L323.3,948.5 L324.1,949.7 L325.0,951.0 L325.8,952.3 L326.6,953.5 L327.4,954.8 L328.2,956.0 L329.0,957.3 L329.9,958.6 L330.7,959.8 L331.5,961.1 L332.3,962.4 L333.1,963.7 L333.9,964.9 L334.7,966.2 L335.5,967.5 L336.3,968.7 L337.1,970.0 L337.9,971.3 L338.7,972.6 L339.5,973.9 L340.3,975.1 L341.0,976.4 L341.8,977.7 L342.6,979.0 L343.4,980.3 L344.2,981.5 L345.0,982.8 L345.8,984.1 L346.5,985.4 L347.3,986.7 L348.1,988.0 L348.9,989.3 L349.7,990.5 L350.4,991.8 L351.2,993.1 L352.0,994.4 L352.8,995.7 L353.6,997.0 L354.3,998.3 L355.1,999.6 L355.9,1000.8 L356.6,1002.1 L357.4,1003.4 L358.2,1004.7 L359.0,1006.0 L359.7,1007.3 L360.5,1008.6 L361.3,1009.9 L362.1,1011.2 L362.8,1012.5 L363.6,1013.7 L364.4,1015.0 L365.1,1016.3 L365.9,1017.6 L366.7,1018.9 L367.5,1020.2 L368.2,1021.5 L369.0,1022.8 L369.8,1024.1 L370.5,1025.4 L371.3,1026.6 L372.1,1027.9 L372.8,1029.2 L373.6,1030.5 L374.4,1031.8 L375.2,1033.1 L375.9,1034.4 L376.7,1035.7 L377.4,1037.0 L378.2,1038.3 L379.0,1039.6 L379.7,1040.8 L380.5,1042.1 L381.3,1043.4 L382.0,1044.7 L382.8,1046.0 L383.6,1047.3 L384.3,1048.6 L385.1,1049.9 L385.8,1051.2 L386.6,1052.5 L387.4,1053.8 L388.1,1055.1 L388.9,1056.4 L389.6,1057.7 L390.4,1059.0 L391.1,1060.3 L391.9,1061.6 L392.6,1062.9 L393.4,1064.2 L394.2,1065.5 L394.9,1066.8 L395.7,1068.1 L396.4,1069.4 L397.2,1070.7 L397.9,1072.0 L398.6,1073.3 L399.4,1074.6 L400.1,1075.9 L400.9,1077.2 L401.6,1078.5 L402.4,1079.8 L403.1,1081.1 L403.8,1082.4 L404.6,1083.7 L405.3,1085.0 L406.1,1086.3 L406.8,1087.6 L407.5,1088.9 L408.3,1090.2 L409.0,1091.5 L409.7,1092.9 L410.5,1094.2 L411.2,1095.5 L411.9,1096.8 L412.6,1098.1 L413.4,1099.4 L414.1,1100.7 L414.8,1102.0 L415.6,1103.3 L416.3,1104.6 L417.1,1105.9 L417.8,1107.2 L418.5,1108.5 L419.3,1109.8 L420.1,1111.1 L420.8,1112.4 L421.6,1113.7 L422.3,1115.0 L423.1,1116.3 L423.9,1117.6 L424.7,1118.8 L425.5,1120.1 L426.3,1121.3 L427.1,1122.6 L427.9,1123.9 L428.7,1125.1 L429.6,1126.3 L430.4,1127.6 L431.3,1128.8 L432.1,1130.0 L433.0,1131.2 L433.9,1132.4 L434.8,1133.6 L435.7,1134.8 L436.6,1136.0 L437.5,1137.2 L438.4,1138.3 L439.4,1139.5 L440.4,1140.6 L441.3,1141.8 L442.3,1142.9 L443.3,1144.0 L444.3,1145.1 L445.4,1146.2 L446.4,1147.3 L447.5,1148.4 L448.6,1149.5 L449.6,1150.5 L450.7,1151.6 L451.9,1152.6 L453.0,1153.6 L454.1,1154.6 L455.3,1155.6 L456.4,1156.6 L457.6,1157.6 L458.8,1158.6 L460.0,1159.5 L461.2,1160.4 L462.4,1161.4 L463.6,1162.3 L464.8,1163.2 L466.1,1164.1 L467.3,1165.0 L468.6,1165.8 L469.8,1166.7 L471.1,1167.5 L472.4,1168.3 L473.7,1169.1 L474.9,1169.9 L476.2,1170.7 L477.5,1171.5 L478.8,1172.2 L480.2,1173.0 L481.5,1173.7 L482.8,1174.4 L484.1,1175.1 L485.4,1175.8 L486.8,1176.5 L488.1,1177.1 L489.4,1177.8 L490.8,1178.4 L492.1,1179.0 L493.5,1179.6 L494.8,1180.1 L496.2,1180.7 L497.6,1181.2 L498.9,1181.8 L500.3,1182.3 L501.7,1182.8 L503.1,1183.3 L504.5,1183.7 L505.9,1184.2 L507.3,1184.6 L508.7,1185.0 L510.2,1185.4 L511.6,1185.8 L513.0,1186.2 L514.5,1186.5 L515.9,1186.8 L517.4,1187.2 L518.9,1187.5 L520.3,1187.7 L521.8,1188.0 L523.3,1188.2 L524.8,1188.5 L526.3,1188.7 L527.8,1189.0 L529.3,1189.2 L530.8,1189.5 L532.3,1189.9 L533.7,1190.2 L535.2,1190.7 L536.6,1191.1 L537.9,1191.7 L539.3,1192.2 L540.6,1192.9 L541.9,1193.5 L543.1,1194.2 L544.4,1195.0 L545.6,1195.8 L546.8,1196.7 L547.9,1197.5 L549.1,1198.4 L550.2,1199.4 L551.3,1200.4 L552.4,1201.4 L553.5,1202.4 L554.5,1203.5 L555.6,1204.5 L556.6,1205.6 L557.7,1206.7 L558.7,1207.9 L559.7,1209.0 L560.8,1210.1 L561.8,1211.3 L562.8,1212.4 L563.8,1213.6 L564.9,1214.8 L565.9,1215.9 L566.9,1217.1 L568.0,1218.2 L569.0,1219.4 L570.1,1220.5 L571.2,1221.6 L572.3,1222.7 L573.4,1223.8 L574.5,1224.9 L575.7,1225.9 L576.8,1227.0 L578.0,1228.0 L579.2,1228.9 L580.4,1229.9 L581.6,1230.9 L582.8,1231.8 L584.1,1232.7 L585.3,1233.5 L586.6,1234.4 L587.8,1235.2 L589.1,1235.9 L590.4,1236.7 L591.7,1237.4 L593.1,1238.1 L594.4,1238.7 L595.7,1239.4 L597.1,1239.9 L598.5,1240.5 L599.8,1241.0 L601.2,1241.4 L602.6,1241.9 L604.0,1242.3 L605.4,1242.6 L606.9,1243.0 L608.3,1243.2 L609.7,1243.5 L611.2,1243.7 L612.7,1243.9 L614.1,1244.1 L615.6,1244.3 L617.1,1244.4 L618.6,1244.5 L620.1,1244.6 L621.6,1244.6 L623.1,1244.6 L624.6,1244.7 L626.1,1244.7 L627.6,1244.6 L629.1,1244.6 L630.6,1244.6 L632.1,1244.5 L633.7,1244.4 L635.2,1244.3 L636.7,1244.2 L638.2,1244.1 L639.8,1244.0 L641.3,1243.9 L642.8,1243.8 L644.4,1243.6 L645.9,1243.5 L647.4,1243.4 L648.9,1243.3 L650.5,1243.1 L652.0,1243.0 L653.5,1242.9 L655.0,1242.8 L656.5,1242.6 L658.0,1242.5 L659.5,1242.4 L661.0,1242.3 L662.5,1242.2 L664.0,1242.1 L665.6,1242.0 L667.1,1241.9 L668.5,1241.8 L670.0,1241.7 L671.5,1241.6 L673.0,1241.5 L674.5,1241.5 L676.0,1241.4 L677.5,1241.3 L679.0,1241.2 L680.5,1241.2 L682.0,1241.1 L683.5,1241.1 L685.0,1241.0 L686.4,1241.0 L687.9,1241.0 L689.4,1241.0 L690.9,1240.9 L692.4,1240.9 L693.9,1240.9 L695.4,1240.9 L696.8,1240.9 L698.3,1240.9 L699.8,1241.0 L701.3,1241.0 L702.8,1241.0 L704.3,1241.1 L705.8,1241.1 L707.2,1241.2 L708.7,1241.3 L710.2,1241.3 L711.7,1241.4 L713.2,1241.5 L714.7,1241.6 L716.2,1241.7 L717.7,1241.8 L719.2,1242.0 L720.7,1242.1 L722.2,1242.2 L723.7,1242.4 L725.2,1242.6 L726.7,1242.7 L728.2,1242.9 L729.7,1243.1 L731.2,1243.3 L732.7,1243.6 L734.2,1243.8 L735.7,1244.0 L737.2,1244.3 L738.7,1244.5 L740.2,1244.7 L741.8,1245.0 L743.3,1245.2 L744.8,1245.5 L746.3,1245.7 L747.8,1245.9 L749.3,1246.1 L750.8,1246.2 L752.3,1246.4 L753.8,1246.5 L755.3,1246.6 L756.8,1246.7 L758.3,1246.7 L759.8,1246.7 L761.3,1246.7 L762.8,1246.6 L764.3,1246.4 L765.8,1246.3 L767.2,1246.0 L768.7,1245.8 L770.1,1245.4 L771.6,1245.1 L773.0,1244.7 L774.5,1244.2 L775.9,1243.7 L777.3,1243.2 L778.7,1242.6 L780.0,1242.0 L781.4,1241.3 L782.8,1240.6 L784.1,1239.9 L785.4,1239.2 L786.7,1238.4 L788.0,1237.6 L789.2,1236.8 L790.5,1236.0 L791.7,1235.1 L792.9,1234.2 L794.1,1233.3 L795.3,1232.4 L796.4,1231.4 L797.5,1230.5 L798.7,1229.5 L799.8,1228.5 L800.8,1227.5 L801.9,1226.4 L803.0,1225.4 L804.0,1224.3 L805.0,1223.2 L806.0,1222.1 L807.0,1221.0 L808.0,1219.8 L809.0,1218.7 L809.9,1217.5 L810.9,1216.4 L811.8,1215.2 L812.7,1214.0 L813.6,1212.8 L814.5,1211.5 L815.4,1210.3 L816.3,1209.1 L817.1,1207.8 L818.0,1206.6 L818.8,1205.3 L819.6,1204.0 L820.5,1202.8 L821.3,1201.5 L822.1,1200.2 L822.9,1198.9 L823.7,1197.6 L824.4,1196.3 L825.2,1195.0 L826.0,1193.7 L826.7,1192.4 L827.5,1191.1 L828.2,1189.8 L829.0,1188.4 L829.7,1187.1 L830.4,1185.8 L831.2,1184.5 L831.9,1183.2 L832.6,1181.8 L833.3,1180.5 L834.0,1179.2 L834.7,1177.8 L835.4,1176.5 L836.1,1175.2 L836.8,1173.8 L837.4,1172.5 L838.1,1171.2 L838.8,1169.8 L839.4,1168.5 L840.1,1167.1 L840.8,1165.8 L841.4,1164.4 L842.1,1163.1 L842.7,1161.7 L843.4,1160.4 L844.0,1159.0 L844.6,1157.7 L845.3,1156.3 L845.9,1154.9 L846.5,1153.6 L847.2,1152.2 L847.8,1150.9 L848.4,1149.5 L849.0,1148.1 L849.6,1146.8 L850.3,1145.4 L850.9,1144.1 L851.5,1142.7 L852.1,1141.3 L852.7,1140.0 L853.3,1138.6 L853.9,1137.2 L854.6,1135.9 L855.2,1134.5 L855.8,1133.1 L856.4,1131.8 L857.0,1130.4 L857.6,1129.0 L858.2,1127.7 L858.8,1126.3 L859.4,1124.9 L860.0,1123.6 L860.6,1122.2 L861.3,1120.8 L861.9,1119.5 L862.5,1118.1 L863.1,1116.7 L863.7,1115.4 L864.3,1114.0 L864.9,1112.6 L865.6,1111.3 L866.2,1109.9 L866.8,1108.5 L867.4,1107.2 L868.1,1105.8 L868.7,1104.4 L869.3,1103.1 L869.9,1101.7 L870.6,1100.4 L871.2,1099.0 L871.8,1097.6 L872.5,1096.3 L873.1,1094.9 L873.7,1093.6 L874.4,1092.2 L875.0,1090.8 L875.7,1089.5 L876.3,1088.1 L876.9,1086.8 L877.6,1085.4 L878.2,1084.0 L878.9,1082.7 L879.5,1081.3 L880.1,1080.0 L880.8,1078.6 L881.4,1077.2 L882.1,1075.9 L882.7,1074.5 L883.4,1073.2 L884.0,1071.8 L884.6,1070.5 L885.3,1069.1 L885.9,1067.7 L886.6,1066.4 L887.2,1065.0 L887.9,1063.7 L888.5,1062.3 L889.2,1060.9 L889.8,1059.6 L890.5,1058.2 L891.1,1056.9 L891.8,1055.5 L892.4,1054.2 L893.0,1052.8 L893.7,1051.4 L894.3,1050.1 L895.0,1048.7 L895.6,1047.4 L896.3,1046.0 L896.9,1044.6 L897.6,1043.3 L898.2,1041.9 L898.9,1040.6 L899.5,1039.2 L900.1,1037.9 L900.8,1036.5 L901.4,1035.1 L902.1,1033.8 L902.7,1032.4 L903.3,1031.0 L904.0,1029.7 L904.6,1028.3 L905.3,1027.0 L905.9,1025.6 L906.5,1024.2 L907.2,1022.9 L907.8,1021.5 L908.4,1020.2 L909.1,1018.8 L909.7,1017.4 L910.3,1016.1 L911.0,1014.7 L911.6,1013.3 L912.2,1012.0 L912.9,1010.6 L913.5,1009.3 L914.1,1007.9 L914.8,1006.5 L915.4,1005.2 L916.0,1003.8 L916.7,1002.4 L917.3,1001.1 L917.9,999.7 L918.6,998.4 L919.2,997.0 L919.9,995.7 L920.5,994.3 L921.1,992.9 L921.8,991.6 L922.4,990.2 L923.1,988.9 L923.7,987.5 L924.4,986.2 L925.0,984.8 L925.7,983.5 L926.3,982.1 L927.0,980.8 L927.6,979.4 L928.3,978.1 L929.0,976.7 L929.6,975.4 L930.3,974.1 L931.0,972.7 L931.7,971.4 L932.4,970.1 L933.0,968.7 L933.7,967.4 L934.4,966.1 L935.1,964.7 L935.8,963.4 L936.5,962.1 L937.2,960.8 L937.9,959.4 L938.6,958.1 L939.3,956.8 L940.1,955.5 L940.8,954.2 L941.5,952.9 L942.3,951.6 L943.0,950.3 L943.7,949.0 L944.5,947.7 L945.2,946.4 L946.0,945.1 L946.8,943.8 L947.5,942.5 L948.3,941.2 L949.1,939.9 L949.9,938.6 L950.6,937.4 L951.4,936.1 L952.2,934.8 L953.0,933.6 L953.9,932.3 L954.7,931.0 L955.5,929.8 L956.3,928.5 L957.2,927.3 L958.0,926.0 L958.8,924.8 L959.7,923.6 L960.5,922.3 L961.4,921.1 L962.3,919.9 L963.2,918.7 L964.1,917.5 L964.9,916.3 L965.8,915.1 L966.7,913.9 L967.7,912.7 L968.6,911.5 L969.5,910.3 L970.4,909.1 L971.4,908.0 L972.3,906.8 L973.3,905.6 L974.3,904.5 L975.2,903.3 L976.2,902.2 L977.2,901.0 L978.2,899.9 L979.2,898.8 L980.2,897.7 L981.2,896.6 L982.2,895.4 L983.3,894.3 L984.3,893.3 L985.4,892.2 L986.4,891.1 L987.5,890.0 L988.6,888.9 L989.7,887.9 L990.8,886.8 L991.9,885.8 L993.0,884.8 L994.1,883.7 L995.2,882.7 L996.4,881.7 L997.5,880.7 L998.7,879.7 L999.9,878.7 L1001.0,877.7 L1002.2,876.8 L1003.4,875.8 L1004.6,874.9 L1005.9,874.0 L1007.1,873.1 L1008.3,872.2 L1009.6,871.4 L1010.8,870.6 L1012.1,869.8 L1013.4,869.0 L1014.7,868.2 L1016.0,867.5 L1017.3,866.8 L1018.6,866.2 L1019.9,865.6 L1021.3,865.0 L1022.6,864.5 L1024.0,863.9 L1025.4,863.5 L1026.8,863.1 L1028.2,862.7 L1029.6,862.3 L1031.0,862.0 L1032.4,861.8 L1033.9,861.6 L1035.3,861.4 L1036.8,861.3 L1038.3,861.3 L1039.8,861.3 L1041.3,861.3 L1042.8,861.5 L1044.4,861.6 L1045.9,861.9 L1047.5,862.2 L1049.0,862.5 L1050.6,862.9 L1052.2,863.4"/>
<path d="M213.8,869.1 L215.2,867.6 L216.6,866.2 L217.9,865.1 L219.2,864.2 L220.5,863.5 L221.8,863.0 L223.0,862.6 L224.2,862.4 L225.4,862.4 L226.5,862.5 L227.7,862.8 L228.8,863.2 L229.8,863.7 L230.9,864.4 L231.9,865.1 L233.0,866.0 L234.0,866.9 L234.9,867.9 L235.9,869.1 L236.8,870.2 L237.7,871.5 L238.6,872.8 L239.5,874.1 L240.3,875.4 L241.2,876.8 L242.0,878.3 L242.8,879.7 L243.5,881.1 L244.3,882.5 L245.1,883.9 L245.8,885.4 L246.5,886.8 L247.2,888.2 L247.9,889.6 L248.6,891.0 L249.2,892.4 L249.9,893.8 L250.5,895.2 L251.1,896.6 L251.7,898.0 L252.3,899.4 L252.9,900.9 L253.5,902.3 L254.1,903.7 L254.6,905.1 L255.2,906.5 L255.7,907.9 L256.3,909.3 L256.8,910.7 L257.3,912.0 L257.9,913.4 L258.4,914.8 L258.9,916.2 L259.4,917.6 L259.9,919.0 L260.4,920.4 L260.9,921.8 L261.4,923.2 L261.9,924.6 L262.4,926.0 L262.9,927.4 L263.4,928.8 L263.9,930.2 L264.4,931.6 L264.9,933.1 L265.4,934.5 L265.9,935.9 L266.4,937.3 L266.9,938.7 L267.4,940.1 L267.8,941.5 L268.3,942.9 L268.8,944.3 L269.3,945.7 L269.8,947.1 L270.3,948.5 L270.8,949.9 L271.3,951.4 L271.8,952.8 L272.3,954.2 L272.8,955.6 L273.2,957.0 L273.7,958.4 L274.2,959.8 L274.7,961.2 L275.2,962.7 L275.7,964.1 L276.2,965.5 L276.7,966.9 L277.2,968.3 L277.6,969.7 L278.1,971.2 L278.6,972.6 L279.1,974.0 L279.6,975.4 L280.1,976.8 L280.6,978.2 L281.1,979.7 L281.5,981.1 L282.0,982.5 L282.5,983.9 L283.0,985.3 L283.5,986.8 L284.0,988.2 L284.5,989.6 L285.0,991.0 L285.4,992.4 L285.9,993.9 L286.4,995.3 L286.9,996.7 L287.4,998.1 L287.9,999.6 L288.4,1001.0 L288.9,1002.4 L289.4,1003.8 L289.8,1005.2 L290.3,1006.7 L290.8,1008.1 L291.3,1009.5 L291.8,1010.9 L292.3,1012.4 L292.8,1013.8 L293.3,1015.2 L293.8,1016.6 L294.3,1018.1 L294.8,1019.5 L295.2,1020.9 L295.7,1022.3 L296.2,1023.7 L296.7,1025.2 L297.2,1026.6 L297.7,1028.0 L298.2,1029.4 L298.7,1030.9 L299.2,1032.3 L299.7,1033.7 L300.2,1035.1 L300.7,1036.6 L301.2,1038.0 L301.7,1039.4 L302.2,1040.8 L302.7,1042.2 L303.2,1043.7 L303.7,1045.1 L304.2,1046.5 L304.7,1047.9 L305.2,1049.4 L305.7,1050.8 L306.2,1052.2 L306.7,1053.6 L307.2,1055.0 L307.7,1056.5 L308.3,1057.9 L308.8,1059.3 L309.3,1060.7 L309.8,1062.1 L310.3,1063.6 L310.8,1065.0 L311.3,1066.4 L311.8,1067.8 L312.3,1069.2 L312.9,1070.6 L313.4,1072.1 L313.9,1073.5 L314.4,1074.9 L314.9,1076.3 L315.4,1077.7 L316.0,1079.1 L316.5,1080.5 L317.0,1082.0 L317.5,1083.4 L318.1,1084.8 L318.6,1086.2 L319.1,1087.6 L319.6,1089.0 L320.2,1090.4 L320.7,1091.8 L321.2,1093.3 L321.8,1094.7 L322.3,1096.1 L322.8,1097.5 L323.4,1098.9 L323.9,1100.3 L324.4,1101.7 L325.0,1103.1 L325.5,1104.5 L326.0,1105.9 L326.6,1107.3 L327.1,1108.7 L327.7,1110.1 L328.2,1111.5 L328.8,1112.9 L329.3,1114.3 L329.9,1115.7 L330.4,1117.1 L331.0,1118.5 L331.5,1119.9 L332.1,1121.3 L332.6,1122.7 L333.2,1124.1 L333.7,1125.5 L334.3,1126.9 L334.9,1128.3 L335.4,1129.7 L336.0,1131.1 L336.6,1132.5 L337.1,1133.9 L337.7,1135.3 L338.3,1136.7 L338.8,1138.1 L339.4,1139.5 L340.0,1140.8 L340.5,1142.2 L341.1,1143.6 L341.7,1145.0 L342.3,1146.4 L342.8,1147.8 L343.4,1149.2 L344.0,1150.6 L344.6,1151.9 L345.2,1153.3 L345.8,1154.7 L346.3,1156.1 L346.9,1157.5 L347.5,1158.9 L348.1,1160.2 L348.7,1161.6 L349.3,1163.0 L349.9,1164.4 L350.5,1165.7 L351.1,1167.1 L351.7,1168.5 L352.3,1169.9 L352.9,1171.3 L353.5,1172.6 L354.1,1174.0 L354.7,1175.4 L355.3,1176.7 L355.9,1178.1 L356.5,1179.5 L357.1,1180.9 L357.7,1182.2 L358.4,1183.6 L359.0,1185.0 L359.6,1186.3 L360.2,1187.7 L360.8,1189.1 L361.5,1190.4 L362.1,1191.8 L362.7,1193.2 L363.3,1194.5 L364.0,1195.9 L364.6,1197.3 L365.2,1198.6 L365.9,1200.0 L366.5,1201.3 L367.1,1202.7 L367.8,1204.1 L368.4,1205.4 L369.0,1206.8 L369.7,1208.1 L370.3,1209.5 L371.0,1210.8 L371.6,1212.2 L372.3,1213.5 L372.9,1214.9 L373.6,1216.2 L374.2,1217.6 L374.9,1218.9 L375.5,1220.3 L376.2,1221.6 L376.8,1223.0 L377.5,1224.3 L378.2,1225.7 L378.8,1227.0 L379.5,1228.4 L380.2,1229.7 L380.8,1231.1 L381.5,1232.4 L382.2,1233.8 L382.9,1235.1 L383.5,1236.4 L384.2,1237.8 L384.9,1239.1 L385.6,1240.5 L386.2,1241.8 L386.9,1243.1 L387.6,1244.5 L388.3,1245.8 L389.0,1247.1 L389.7,1248.5 L390.4,1249.8 L391.2,1251.1 L391.9,1252.4 L392.6,1253.7 L393.4,1255.0 L394.2,1256.3 L394.9,1257.6 L395.7,1258.9 L396.6,1260.2 L397.4,1261.5 L398.2,1262.7 L399.1,1264.0 L400.0,1265.3 L400.9,1266.5 L401.8,1267.7 L402.7,1269.0 L403.7,1270.2 L404.7,1271.4 L405.7,1272.6 L406.7,1273.8 L407.7,1274.9 L408.8,1276.1 L409.9,1277.2 L411.1,1278.3 L412.2,1279.4 L413.4,1280.4 L414.5,1281.4 L415.7,1282.4 L417.0,1283.3 L418.2,1284.1 L419.5,1284.9 L420.7,1285.7 L422.0,1286.4 L423.3,1287.0 L424.6,1287.6 L425.9,1288.0 L427.3,1288.5 L428.6,1288.8 L430.0,1289.0 L431.3,1289.2 L432.7,1289.4 L434.1,1289.4 L435.5,1289.4 L436.9,1289.4 L438.3,1289.2 L439.7,1289.1 L441.1,1288.9 L442.6,1288.6 L444.0,1288.3 L445.5,1288.0 L446.9,1287.6 L448.4,1287.2 L449.8,1286.7 L451.3,1286.3 L452.7,1285.8 L454.2,1285.3 L455.7,1284.8 L457.1,1284.2 L458.6,1283.7 L460.1,1283.1 L461.6,1282.6 L463.0,1282.0 L464.5,1281.4 L466.0,1280.9 L467.5,1280.3 L468.9,1279.8 L470.4,1279.2 L471.9,1278.7 L473.4,1278.2 L474.8,1277.8 L476.3,1277.3 L477.7,1276.9 L479.2,1276.5 L480.7,1276.1 L482.1,1275.7 L483.6,1275.3 L485.0,1275.0 L486.5,1274.7 L487.9,1274.3 L489.4,1274.0 L490.8,1273.8 L492.3,1273.5 L493.7,1273.2 L495.2,1273.0 L496.6,1272.7 L498.1,1272.5 L499.5,1272.3 L501.0,1272.1 L502.4,1271.9 L503.9,1271.7 L505.3,1271.6 L506.8,1271.4 L508.2,1271.2 L509.7,1271.1 L511.2,1271.0 L512.6,1270.8 L514.1,1270.7 L515.6,1270.6 L517.1,1270.5 L518.6,1270.3 L520.0,1270.2 L521.5,1270.1 L523.0,1270.0 L524.5,1269.9 L526.0,1269.8 L527.5,1269.8 L529.1,1269.7 L530.6,1269.6 L532.1,1269.5 L533.6,1269.5 L535.1,1269.4 L536.7,1269.3 L538.2,1269.3 L539.7,1269.2 L541.2,1269.2 L542.8,1269.2 L544.3,1269.2 L545.8,1269.2 L547.4,1269.2 L548.9,1269.2 L550.4,1269.2 L551.9,1269.2 L553.5,1269.3 L555.0,1269.3 L556.5,1269.4 L558.0,1269.5 L559.6,1269.6 L561.1,1269.7 L562.6,1269.8 L564.1,1269.9 L565.6,1270.1 L567.1,1270.2 L568.6,1270.4 L570.1,1270.6 L571.6,1270.8 L573.1,1271.1 L574.6,1271.3 L576.1,1271.6 L577.5,1271.9 L579.0,1272.2 L580.4,1272.5 L581.9,1272.8 L583.3,1273.2 L584.8,1273.6 L586.2,1274.0 L587.6,1274.4 L589.0,1274.9 L590.4,1275.3 L591.8,1275.8 L593.2,1276.3 L594.6,1276.9 L595.9,1277.4 L597.3,1278.0 L598.6,1278.6 L600.0,1279.3 L601.3,1279.9 L602.6,1280.6 L603.9,1281.4 L605.2,1282.1 L606.5,1282.9 L607.7,1283.6 L609.0,1284.4 L610.2,1285.3 L611.5,1286.1 L612.7,1287.0 L613.9,1287.9 L615.1,1288.8 L616.3,1289.7 L617.5,1290.6 L618.7,1291.6 L619.8,1292.6 L621.0,1293.6 L622.1,1294.6 L623.2,1295.6 L624.4,1296.6 L625.5,1297.7 L626.6,1298.7 L627.6,1299.8 L628.7,1300.9 L629.8,1302.0 L630.8,1303.1 L631.9,1304.2 L632.9,1305.3 L633.9,1306.5 L634.9,1307.6 L635.9,1308.8 L636.9,1309.9 L637.9,1311.1 L638.8,1312.2 L639.8,1313.4 L640.7,1314.6 L641.7,1315.8 L642.6,1316.9 L643.5,1318.1 L644.4,1319.3 L645.3,1320.5 L646.2,1321.7 L647.0,1322.8 L647.9,1324.0"/>
<path d="M666.1,1330.3 L667.0,1328.9 L667.9,1327.6 L668.9,1326.3 L669.9,1325.0 L671.0,1323.8 L672.1,1322.7 L673.3,1321.6 L674.5,1320.5 L675.7,1319.5 L677.0,1318.5 L678.3,1317.7 L679.6,1316.8 L681.0,1316.1 L682.4,1315.4 L683.8,1314.7 L685.2,1314.2 L686.7,1313.7 L688.1,1313.3 L689.6,1312.9 L691.1,1312.7 L692.6,1312.5 L694.0,1312.4 L695.5,1312.4 L697.0,1312.5 L698.5,1312.7 L700.0,1312.9 L701.5,1313.3 L702.9,1313.7 L704.4,1314.2 L705.8,1314.7 L707.2,1315.4 L708.6,1316.1 L710.0,1316.8 L711.3,1317.7 L712.6,1318.5 L713.9,1319.5 L715.1,1320.5 L716.3,1321.6 L717.5,1322.7 L718.6,1323.8 L719.7,1325.1 L720.7,1326.3 L721.7,1327.6 L722.6,1328.9 L723.5,1330.3"/>
<path d="M748.9,1323.6 L749.8,1322.6 L750.8,1321.6 L751.7,1320.6 L752.7,1319.6 L753.7,1318.6 L754.7,1317.6 L755.8,1316.6 L756.9,1315.5 L758.0,1314.5 L759.1,1313.5 L760.3,1312.5 L761.4,1311.5 L762.6,1310.6 L763.9,1309.6 L765.1,1308.7 L766.4,1307.8 L767.7,1306.9 L769.0,1306.0 L770.3,1305.1 L771.6,1304.3 L772.9,1303.5 L774.3,1302.8 L775.7,1302.0 L777.1,1301.3 L778.5,1300.7 L779.9,1300.1 L781.3,1299.5 L782.7,1298.9 L784.1,1298.5 L785.6,1298.0 L787.0,1297.6 L788.5,1297.3 L789.9,1297.0 L791.4,1296.8 L792.8,1296.6 L794.3,1296.5 L795.8,1296.4 L797.2,1296.4 L798.7,1296.5 L800.2,1296.7 L801.6,1296.8 L803.1,1297.1 L804.5,1297.4 L806.0,1297.7 L807.5,1298.0 L808.9,1298.4 L810.4,1298.8 L811.8,1299.3 L813.3,1299.7 L814.7,1300.2 L816.2,1300.7 L817.6,1301.2 L819.0,1301.6 L820.5,1302.1 L821.9,1302.6 L823.4,1303.0 L824.8,1303.4 L826.2,1303.8 L827.6,1304.2 L829.1,1304.5 L830.5,1304.8 L831.8,1304.9 L833.1,1304.7 L834.3,1304.3 L835.4,1303.6 L836.5,1302.6 L837.5,1301.5 L838.5,1300.4 L839.4,1299.3 L840.4,1298.1 L841.3,1296.9 L842.3,1295.7 L843.2,1294.5 L844.1,1293.3 L845.0,1292.0 L845.9,1290.8 L846.8,1289.5 L847.7,1288.3 L848.6,1287.0 L849.4,1285.7 L850.3,1284.4 L851.1,1283.2 L852.0,1281.9 L852.8,1280.6 L853.6,1279.3 L854.5,1278.0 L855.3,1276.8 L856.1,1275.5 L856.9,1274.2 L857.6,1272.9 L858.4,1271.6 L859.2,1270.3 L860.0,1269.0 L860.7,1267.7 L861.5,1266.4 L862.3,1265.1 L863.0,1263.8 L863.7,1262.5 L864.5,1261.2 L865.2,1259.9 L865.9,1258.5 L866.7,1257.2 L867.4,1255.9 L868.1,1254.6 L868.8,1253.3 L869.5,1252.0 L870.2,1250.6 L870.9,1249.3 L871.6,1248.0 L872.3,1246.7 L873.0,1245.3 L873.7,1244.0 L874.4,1242.7 L875.1,1241.4 L875.8,1240.0 L876.5,1238.7 L877.1,1237.4 L877.8,1236.0 L878.5,1234.7 L879.2,1233.4 L879.9,1232.0 L880.5,1230.7 L881.2,1229.4 L881.9,1228.0 L882.6,1226.7 L883.2,1225.3 L883.9,1224.0 L884.6,1222.7 L885.2,1221.3 L885.9,1220.0 L886.6,1218.6 L887.3,1217.3 L887.9,1216.0 L888.6,1214.6 L889.3,1213.3 L889.9,1211.9 L890.6,1210.6 L891.2,1209.2 L891.9,1207.9 L892.6,1206.5 L893.2,1205.2 L893.9,1203.8 L894.5,1202.5 L895.2,1201.1 L895.9,1199.8 L896.5,1198.4 L897.2,1197.0 L897.8,1195.7 L898.5,1194.3 L899.1,1193.0 L899.8,1191.6 L900.4,1190.3 L901.0,1188.9 L901.7,1187.5 L902.3,1186.2 L903.0,1184.8 L903.6,1183.4 L904.2,1182.1 L904.9,1180.7 L905.5,1179.3 L906.1,1178.0 L906.8,1176.6 L907.4,1175.2 L908.0,1173.9 L908.6,1172.5 L909.3,1171.1 L909.9,1169.7 L910.5,1168.4 L911.1,1167.0 L911.7,1165.6 L912.3,1164.2 L912.9,1162.9 L913.5,1161.5 L914.1,1160.1 L914.7,1158.7 L915.3,1157.3 L915.9,1156.0 L916.5,1154.6 L917.1,1153.2 L917.7,1151.8 L918.3,1150.4 L918.9,1149.0 L919.5,1147.7 L920.1,1146.3 L920.6,1144.9 L921.2,1143.5 L921.8,1142.1 L922.4,1140.7 L922.9,1139.3 L923.5,1137.9 L924.0,1136.5 L924.6,1135.1 L925.2,1133.7 L925.7,1132.3 L926.3,1130.9 L926.8,1129.5 L927.4,1128.1 L927.9,1126.7 L928.5,1125.3 L929.0,1123.9 L929.5,1122.5 L930.1,1121.1 L930.6,1119.7 L931.1,1118.3 L931.7,1116.9 L932.2,1115.5 L932.7,1114.1 L933.2,1112.7 L933.8,1111.2 L934.3,1109.8 L934.8,1108.4 L935.3,1107.0 L935.8,1105.6 L936.4,1104.2 L936.9,1102.8 L937.4,1101.4 L937.9,1099.9 L938.4,1098.5 L938.9,1097.1 L939.4,1095.7 L939.9,1094.3 L940.4,1092.9 L940.9,1091.4 L941.4,1090.0 L941.9,1088.6 L942.4,1087.2 L942.9,1085.8 L943.4,1084.4 L943.9,1082.9 L944.4,1081.5 L944.9,1080.1 L945.4,1078.7 L945.9,1077.3 L946.4,1075.8 L946.9,1074.4 L947.4,1073.0 L947.9,1071.6 L948.3,1070.2 L948.8,1068.7 L949.3,1067.3 L949.8,1065.9 L950.3,1064.5 L950.8,1063.0 L951.3,1061.6 L951.8,1060.2 L952.3,1058.8 L952.7,1057.4 L953.2,1055.9 L953.7,1054.5 L954.2,1053.1 L954.7,1051.7 L955.2,1050.2 L955.7,1048.8 L956.2,1047.4 L956.7,1046.0 L957.2,1044.6 L957.6,1043.1 L958.1,1041.7 L958.6,1040.3 L959.1,1038.9 L959.6,1037.5 L960.1,1036.0 L960.6,1034.6 L961.1,1033.2 L961.6,1031.8 L962.1,1030.4 L962.6,1028.9 L963.1,1027.5 L963.6,1026.1 L964.1,1024.7 L964.6,1023.3 L965.1,1021.9 L965.6,1020.4 L966.1,1019.0 L966.6,1017.6 L967.1,1016.2 L967.6,1014.8 L968.1,1013.4 L968.6,1011.9 L969.1,1010.5 L969.6,1009.1 L970.1,1007.7 L970.7,1006.3 L971.2,1004.9 L971.7,1003.4 L972.2,1002.0 L972.7,1000.6 L973.2,999.2 L973.7,997.8 L974.2,996.4 L974.7,995.0 L975.2,993.5 L975.8,992.1 L976.3,990.7 L976.8,989.3 L977.3,987.9 L977.8,986.5 L978.3,985.1 L978.8,983.6 L979.3,982.2 L979.9,980.8 L980.4,979.4 L980.9,978.0 L981.4,976.6 L981.9,975.2 L982.4,973.7 L982.9,972.3 L983.5,970.9 L984.0,969.5 L984.5,968.1 L985.0,966.7 L985.5,965.2 L986.0,963.8 L986.5,962.4 L987.1,961.0 L987.6,959.6 L988.1,958.2 L988.6,956.7 L989.1,955.3 L989.6,953.9 L990.1,952.5 L990.7,951.1 L991.2,949.7 L991.7,948.2 L992.2,946.8 L992.7,945.4 L993.2,944.0 L993.7,942.6 L994.3,941.2 L994.8,939.7 L995.3,938.3 L995.8,936.9 L996.3,935.5 L996.8,934.1 L997.3,932.6 L997.8,931.2 L998.4,929.8 L998.9,928.4 L999.4,926.9 L999.9,925.5 L1000.4,924.1 L1000.9,922.7 L1001.4,921.3 L1001.9,919.8 L1002.4,918.4 L1002.9,917.0 L1003.4,915.6 L1003.9,914.1 L1004.5,912.7 L1005.0,911.3 L1005.5,909.9 L1006.0,908.4 L1006.5,907.0 L1007.0,905.6 L1007.5,904.2 L1008.1,902.8 L1008.6,901.3 L1009.1,899.9 L1009.7,898.5 L1010.2,897.1 L1010.8,895.7 L1011.4,894.4 L1012.0,893.0 L1012.6,891.6 L1013.2,890.3 L1013.9,888.9 L1014.5,887.6 L1015.2,886.2 L1015.9,884.9 L1016.6,883.6 L1017.3,882.3 L1018.1,881.0 L1018.9,879.7 L1019.7,878.5 L1020.5,877.2 L1021.4,876.0 L1022.3,874.7 L1023.2,873.5 L1024.1,872.4 L1025.1,871.2 L1026.1,870.0 L1027.1,868.9 L1028.2,867.8 L1029.3,866.7 L1030.4,865.6 L1031.6,864.6 L1032.8,863.6 L1034.0,862.8 L1035.2,862.1 L1036.5,861.4 L1037.8,861.0 L1039.1,860.7 L1040.4,860.6 L1041.8,860.7 L1043.1,861.1 L1044.5,861.7 L1045.9,862.6 L1047.3,863.7 L1048.6,865.2 L1050.0,867.0"/>
<path d="M210.3,1302.4 L211.7,1302.4 L213.2,1302.4 L214.7,1302.4 L216.1,1302.4 L217.6,1302.4 L219.1,1302.4 L220.5,1302.3 L222.0,1302.3 L223.5,1302.3 L225.0,1302.2 L226.4,1302.2 L227.9,1302.1 L229.4,1302.1 L230.9,1302.0 L232.4,1302.0 L233.9,1301.9 L235.3,1301.8 L236.8,1301.8 L238.3,1301.7 L239.8,1301.6 L241.3,1301.5 L242.8,1301.5 L244.3,1301.4 L245.8,1301.3 L247.3,1301.2 L248.8,1301.1 L250.3,1301.0 L251.9,1300.9 L253.4,1300.8 L254.9,1300.8 L256.4,1300.7 L257.9,1300.6 L259.4,1300.5 L260.9,1300.4 L262.4,1300.3 L264.0,1300.2 L265.5,1300.1 L267.0,1300.0 L268.5,1299.9 L270.0,1299.8 L271.5,1299.7 L273.1,1299.6 L274.6,1299.5 L276.1,1299.4 L277.6,1299.3 L279.2,1299.2 L280.7,1299.1 L282.2,1299.0 L283.7,1298.9 L285.3,1298.8 L286.8,1298.7 L288.3,1298.6 L289.8,1298.5 L291.4,1298.4 L292.9,1298.3 L294.4,1298.3 L295.9,1298.2 L297.5,1298.1 L299.0,1298.0 L300.5,1297.9 L302.0,1297.9 L303.6,1297.8 L305.1,1297.8 L306.6,1297.7 L308.2,1297.6 L309.7,1297.6 L311.2,1297.5 L312.7,1297.5 L314.3,1297.5 L315.8,1297.4 L317.3,1297.4 L318.8,1297.4 L320.3,1297.3 L321.9,1297.3 L323.4,1297.3 L324.9,1297.3 L326.4,1297.3 L327.9,1297.3 L329.5,1297.3 L331.0,1297.3 L332.5,1297.4 L334.0,1297.4 L335.5,1297.4 L337.0,1297.5 L338.5,1297.5 L340.1,1297.6 L341.6,1297.6 L343.1,1297.7 L344.6,1297.8 L346.1,1297.8 L347.6,1297.9 L349.1,1298.0 L350.6,1298.1 L352.1,1298.2 L353.6,1298.4 L355.1,1298.5 L356.6,1298.6 L358.1,1298.8 L359.6,1298.9 L361.1,1299.1 L362.6,1299.2 L364.0,1299.4 L365.5,1299.6 L367.0,1299.8 L368.5,1300.0 L370.0,1300.2 L371.4,1300.4 L372.9,1300.7 L374.4,1300.9 L375.9,1301.2 L377.3,1301.4 L378.8,1301.7 L380.3,1302.0 L381.7,1302.3 L383.2,1302.6 L384.6,1302.9 L386.1,1303.2 L387.5,1303.5 L389.0,1303.9 L390.4,1304.2 L391.9,1304.6 L393.3,1305.0 L394.8,1305.4 L396.2,1305.8 L397.6,1306.2 L399.1,1306.6 L400.5,1307.1 L401.9,1307.5 L403.3,1308.0 L404.8,1308.5 L406.2,1309.0 L407.6,1309.5 L409.0,1310.0 L410.4,1310.5 L411.8,1311.1 L413.2,1311.6 L414.6,1312.2 L416.0,1312.8 L417.4,1313.4 L418.8,1314.0 L420.2,1314.6 L421.5,1315.3 L422.9,1315.9 L424.3,1316.6 L425.7,1317.3 L427.0,1318.0 L428.4,1318.7 L429.7,1319.5 L431.1,1320.2 L432.4,1321.0 L433.8,1321.7 L435.1,1322.5 L436.5,1323.4 L437.8,1324.2 L439.1,1325.0 L440.5,1325.9"/>
<path d="M819.5,1323.4 L820.2,1321.9 L820.9,1320.5 L821.7,1319.2 L822.6,1318.0 L823.6,1316.9 L824.6,1315.9 L825.6,1315.0 L826.8,1314.2 L827.9,1313.4 L829.1,1312.7 L830.4,1312.1 L831.7,1311.5 L833.0,1311.0 L834.4,1310.5 L835.8,1310.1 L837.2,1309.7 L838.6,1309.3 L840.1,1309.0 L841.5,1308.6 L843.0,1308.3 L844.5,1308.0 L846.0,1307.7 L847.5,1307.3 L848.9,1307.0 L850.4,1306.7 L851.9,1306.3 L853.4,1306.0 L854.9,1305.7 L856.4,1305.4 L857.9,1305.1 L859.3,1304.7 L860.8,1304.4 L862.3,1304.1 L863.8,1303.8 L865.3,1303.5 L866.8,1303.2 L868.3,1302.9 L869.8,1302.6 L871.3,1302.3 L872.8,1302.0 L874.3,1301.8 L875.8,1301.5 L877.3,1301.2 L878.8,1301.0 L880.3,1300.7 L881.8,1300.5 L883.3,1300.3 L884.8,1300.0 L886.3,1299.8 L887.8,1299.6 L889.3,1299.4 L890.8,1299.2 L892.3,1299.1 L893.8,1298.9 L895.3,1298.7 L896.8,1298.6 L898.4,1298.4 L899.9,1298.3 L901.4,1298.1 L902.9,1298.0 L904.4,1297.9 L905.9,1297.8 L907.4,1297.7 L908.9,1297.6 L910.4,1297.5 L911.9,1297.4 L913.4,1297.3 L914.9,1297.2 L916.4,1297.2 L917.9,1297.1 L919.4,1297.1 L920.9,1297.0 L922.4,1297.0 L923.9,1296.9 L925.5,1296.9 L927.0,1296.9 L928.5,1296.9 L930.0,1296.9 L931.5,1296.8 L933.0,1296.8 L934.5,1296.8 L936.0,1296.8 L937.5,1296.9 L939.0,1296.9 L940.5,1296.9 L942.0,1296.9 L943.6,1296.9 L945.1,1297.0 L946.6,1297.0 L948.1,1297.0 L949.6,1297.1 L951.1,1297.1 L952.6,1297.2 L954.1,1297.2 L955.6,1297.3 L957.1,1297.3 L958.7,1297.4 L960.2,1297.5 L961.7,1297.5 L963.2,1297.6 L964.7,1297.7 L966.2,1297.7 L967.7,1297.8 L969.2,1297.9 L970.7,1298.0 L972.3,1298.0 L973.8,1298.1 L975.3,1298.2 L976.8,1298.3 L978.3,1298.4 L979.8,1298.5 L981.3,1298.5 L982.8,1298.6 L984.3,1298.7 L985.9,1298.8 L987.4,1298.9 L988.9,1299.0 L990.4,1299.1 L991.9,1299.2 L993.4,1299.3 L994.9,1299.3 L996.4,1299.4 L998.0,1299.5 L999.5,1299.6 L1001.0,1299.7 L1002.5,1299.8 L1004.0,1299.9 L1005.5,1300.0 L1007.0,1300.0 L1008.5,1300.1 L1010.1,1300.2 L1011.6,1300.3 L1013.1,1300.4 L1014.6,1300.4 L1016.1,1300.5 L1017.6,1300.6 L1019.1,1300.7 L1020.7,1300.7 L1022.2,1300.8 L1023.7,1300.9 L1025.2,1300.9 L1026.7,1301.0 L1028.2,1301.0 L1029.7,1301.1 L1031.2,1301.1 L1032.8,1301.2 L1034.3,1301.2 L1035.8,1301.3 L1037.3,1301.3 L1038.8,1301.3 L1040.3,1301.4 L1041.8,1301.4 L1043.4,1301.4 L1044.9,1301.4 L1046.4,1301.4 L1047.9,1301.4 L1049.4,1301.4 L1050.9,1301.4 L1052.4,1301.4 L1054.0,1301.4 L1055.5,1301.4 L1057.0,1301.4 L1058.5,1301.3 L1060.0,1301.3"/>
</g>
<g stroke="#000" stroke-opacity="0.8" stroke-width="7" clip-path="url(#c)">
<line x1="225.0" y1="41" x2="225.0" y2="1316"/>
<line x1="523.0" y1="41" x2="523.0" y2="1316"/>
<line x1="695.0" y1="41" x2="695.0" y2="1316"/>
<line x1="1039.0" y1="41" x2="1039.0" y2="1316"/>
</g>
<rect x="225" y="41" width="814" height="1275" fill="none" stroke="#000" stroke-width="4" stroke-linejoin="miter"/>
<g stroke="#000"><line x1="208.0" y1="1316.00" x2="225.0" y2="1316.00" stroke-width="4"/><line x1="215.3" y1="1273.50" x2="225.0" y2="1273.50" stroke-width="3"/><line x1="215.3" y1="1231.00" x2="225.0" y2="1231.00" stroke-width="3"/><line x1="215.3" y1="1188.50" x2="225.0" y2="1188.50" stroke-width="3"/><line x1="215.3" y1="1146.00" x2="225.0" y2="1146.00" stroke-width="3"/><line x1="208.0" y1="1103.50" x2="225.0" y2="1103.50" stroke-width="4"/><line x1="215.3" y1="1061.00" x2="225.0" y2="1061.00" stroke-width="3"/><line x1="215.3" y1="1018.50" x2="225.0" y2="1018.50" stroke-width="3"/><line x1="215.3" y1="976.00" x2="225.0" y2="976.00" stroke-width="3"/><line x1="215.3" y1="933.50" x2="225.0" y2="933.50" stroke-width="3"/><line x1="208.0" y1="891.00" x2="225.0" y2="891.00" stroke-width="4"/><line x1="215.3" y1="848.50" x2="225.0" y2="848.50" stroke-width="3"/><line x1="215.3" y1="806.00" x2="225.0" y2="806.00" stroke-width="3"/><line x1="215.3" y1="763.50" x2="225.0" y2="763.50" stroke-width="3"/><line x1="215.3" y1="721.00" x2="225.0" y2="721.00" stroke-width="3"/><line x1="208.0" y1="678.50" x2="225.0" y2="678.50" stroke-width="4"/><line x1="215.3" y1="636.00" x2="225.0" y2="636.00" stroke-width="3"/><line x1="215.3" y1="593.50" x2="225.0" y2="593.50" stroke-width="3"/><line x1="215.3" y1="551.00" x2="225.0" y2="551.00" stroke-width="3"/><line x1="215.3" y1="508.50" x2="225.0" y2="508.50" stroke-width="3"/><line x1="208.0" y1="466.00" x2="225.0" y2="466.00" stroke-width="4"/><line x1="215.3" y1="423.50" x2="225.0" y2="423.50" stroke-width="3"/><line x1="215.3" y1="381.00" x2="225.0" y2="381.00" stroke-width="3"/><line x1="215.3" y1="338.50" x2="225.0" y2="338.50" stroke-width="3"/><line x1="215.3" y1="296.00" x2="225.0" y2="296.00" stroke-width="3"/><line x1="208.0" y1="253.50" x2="225.0" y2="253.50" stroke-width="4"/><line x1="215.3" y1="211.00" x2="225.0" y2="211.00" stroke-width="3"/><line x1="215.3" y1="168.50" x2="225.0" y2="168.50" stroke-width="3"/><line x1="215.3" y1="126.00" x2="225.0" y2="126.00" stroke-width="3"/><line x1="215.3" y1="83.50" x2="225.0" y2="83.50" stroke-width="3"/><line x1="208.0" y1="41.00" x2="225.0" y2="41.00" stroke-width="4"/><line x1="225.0" y1="1316" x2="225.0" y2="1334" stroke-width="4"/><line x1="523.0" y1="1316" x2="523.0" y2="1334" stroke-width="4"/><line x1="695.0" y1="1316" x2="695.0" y2="1334" stroke-width="4"/><line x1="1039.0" y1="1316" x2="1039.0" y2="1334" stroke-width="4"/></g>
<g font-family='"Liberation Serif", serif' font-weight="bold" font-size="89" fill="#000"><text x="188.5" y="1345.3" text-anchor="end" font-size="92">3</text><rect x="117.2" y="1320.10" width="25.9" height="8.8"/><text x="188.5" y="1132.8" text-anchor="end" font-size="92">2</text><rect x="117.2" y="1107.60" width="25.9" height="8.8"/><text x="188.5" y="920.3" text-anchor="end" font-size="92">1</text><rect x="117.2" y="895.10" width="25.9" height="8.8"/><text x="188.5" y="707.8" text-anchor="end" font-size="92">0</text><text x="188.5" y="495.3" text-anchor="end" font-size="92">1</text><text x="188.5" y="282.8" text-anchor="end" font-size="92">2</text><text x="188.5" y="70.3" text-anchor="end" font-size="92">3</text><text transform="translate(227.0,1410) scale(1.060,1)" text-anchor="middle">&#915;</text><text transform="translate(524.3,1410) scale(1.040,1)" text-anchor="middle">M</text><text transform="translate(696.2,1410) scale(1.025,1)" text-anchor="middle">K</text><text transform="translate(1041.2,1410) scale(1.060,1)" text-anchor="middle">&#915;</text><text transform="translate(70,680.5) rotate(-90) scale(1.0077,1)" text-anchor="middle">Energy [eV]</text></g>
</svg>
</body></html>
